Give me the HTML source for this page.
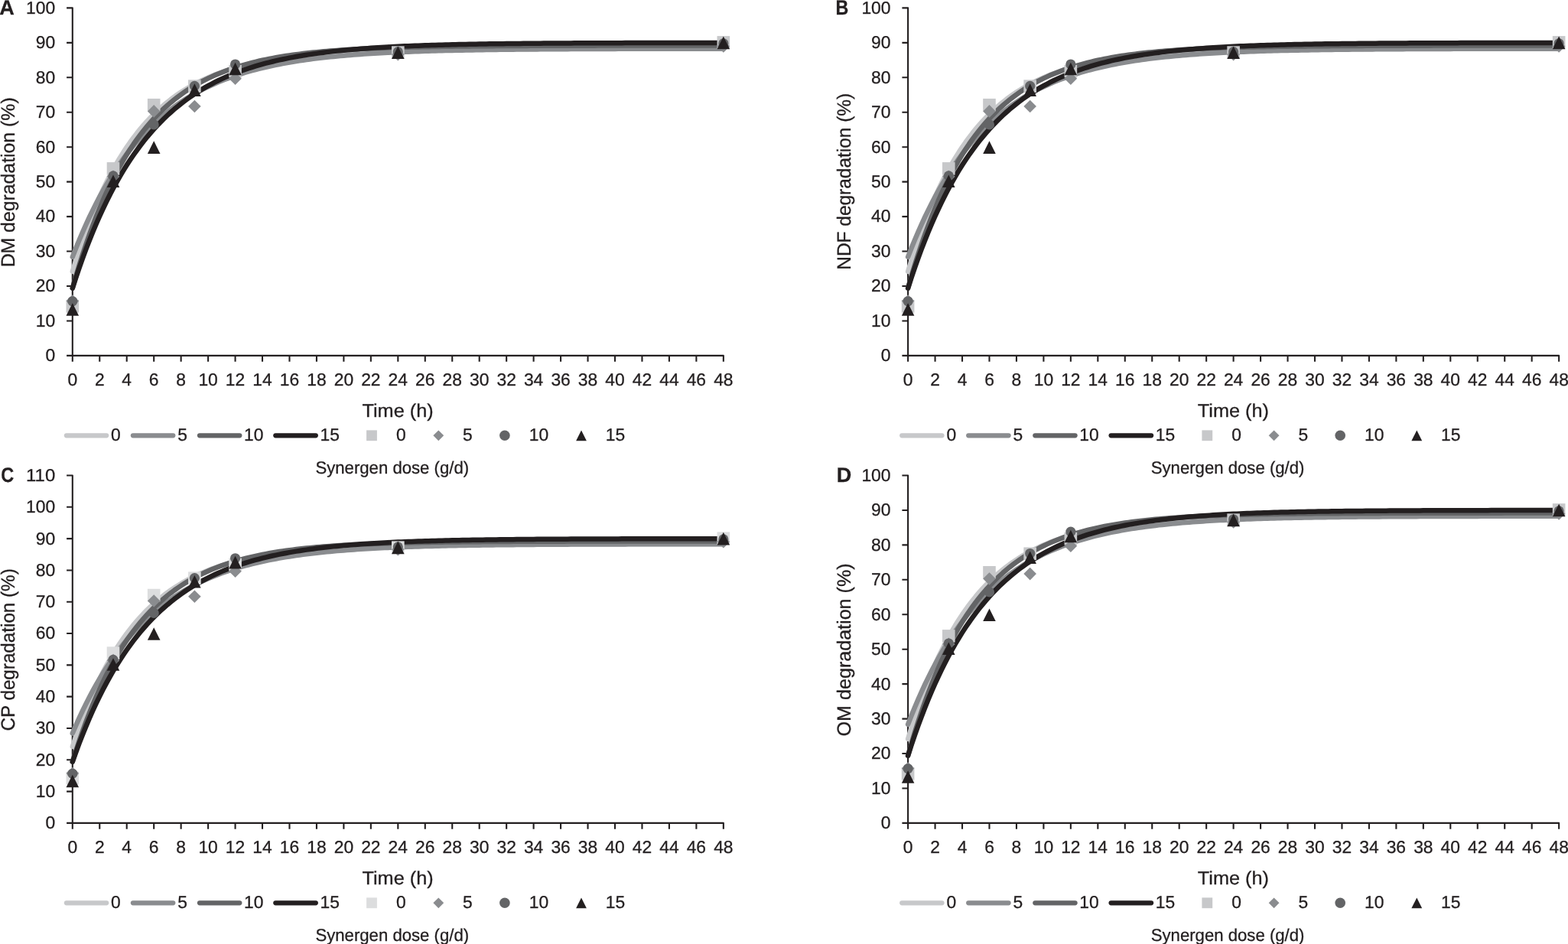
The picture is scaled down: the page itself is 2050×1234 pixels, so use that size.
<!DOCTYPE html>
<html lang="en">
<head>
<meta charset="utf-8">
<title>In situ degradation kinetics by Synergen dose</title>
<style>
html,body{margin:0;padding:0;background:#fff;}
body{width:2050px;height:1234px;overflow:hidden;}
svg{display:block;font-family:"Liberation Sans",sans-serif;}
text{stroke:#231f20;stroke-width:0.3px;text-rendering:geometricPrecision;}
</style>
</head>
<body>
<svg width="2050" height="1234" viewBox="0 0 2050 1234">
<rect width="2050" height="1234" fill="#fff"/>
<g>
<g stroke="#231f20" stroke-width="2.1" fill="none" stroke-linejoin="round">
<path d="M87.1 10.4H94.8V472.7M87.1 464.9H945.84V472.7M87.1 419.45H94.8M87.1 374H94.8M87.1 328.55H94.8M87.1 283.1H94.8M87.1 237.65H94.8M87.1 192.2H94.8M87.1 146.75H94.8M87.1 101.3H94.8M87.1 55.85H94.8M130.26 464.9V472.7M165.72 464.9V472.7M201.18 464.9V472.7M236.64 464.9V472.7M272.1 464.9V472.7M307.56 464.9V472.7M343.02 464.9V472.7M378.48 464.9V472.7M413.94 464.9V472.7M449.4 464.9V472.7M484.86 464.9V472.7M520.32 464.9V472.7M555.78 464.9V472.7M591.24 464.9V472.7M626.7 464.9V472.7M662.16 464.9V472.7M697.62 464.9V472.7M733.08 464.9V472.7M768.54 464.9V472.7M804 464.9V472.7M839.46 464.9V472.7M874.92 464.9V472.7M910.38 464.9V472.7"/>
</g>
<g font-size="22.8" fill="#231f20">
<g text-anchor="end">
<text x="72.2" y="472" textLength="12.7" lengthAdjust="spacingAndGlyphs">0</text>
<text x="72.2" y="427" textLength="25.4" lengthAdjust="spacingAndGlyphs">10</text>
<text x="72.2" y="381" textLength="25.4" lengthAdjust="spacingAndGlyphs">20</text>
<text x="72.2" y="336" textLength="25.4" lengthAdjust="spacingAndGlyphs">30</text>
<text x="72.2" y="290" textLength="25.4" lengthAdjust="spacingAndGlyphs">40</text>
<text x="72.2" y="245" textLength="25.4" lengthAdjust="spacingAndGlyphs">50</text>
<text x="72.2" y="200" textLength="25.4" lengthAdjust="spacingAndGlyphs">60</text>
<text x="72.2" y="154" textLength="25.4" lengthAdjust="spacingAndGlyphs">70</text>
<text x="72.2" y="109" textLength="25.4" lengthAdjust="spacingAndGlyphs">80</text>
<text x="72.2" y="63" textLength="25.4" lengthAdjust="spacingAndGlyphs">90</text>
<text x="72.2" y="18" textLength="38.1" lengthAdjust="spacingAndGlyphs">100</text>
</g>
<g text-anchor="middle">
<text x="94.8" y="504" textLength="12.7" lengthAdjust="spacingAndGlyphs">0</text>
<text x="130.26" y="504" textLength="12.7" lengthAdjust="spacingAndGlyphs">2</text>
<text x="165.72" y="504" textLength="12.7" lengthAdjust="spacingAndGlyphs">4</text>
<text x="201.18" y="504" textLength="12.7" lengthAdjust="spacingAndGlyphs">6</text>
<text x="236.64" y="504" textLength="12.7" lengthAdjust="spacingAndGlyphs">8</text>
<text x="272.1" y="504" textLength="25.4" lengthAdjust="spacingAndGlyphs">10</text>
<text x="307.56" y="504" textLength="25.4" lengthAdjust="spacingAndGlyphs">12</text>
<text x="343.02" y="504" textLength="25.4" lengthAdjust="spacingAndGlyphs">14</text>
<text x="378.48" y="504" textLength="25.4" lengthAdjust="spacingAndGlyphs">16</text>
<text x="413.94" y="504" textLength="25.4" lengthAdjust="spacingAndGlyphs">18</text>
<text x="449.4" y="504" textLength="25.4" lengthAdjust="spacingAndGlyphs">20</text>
<text x="484.86" y="504" textLength="25.4" lengthAdjust="spacingAndGlyphs">22</text>
<text x="520.32" y="504" textLength="25.4" lengthAdjust="spacingAndGlyphs">24</text>
<text x="555.78" y="504" textLength="25.4" lengthAdjust="spacingAndGlyphs">26</text>
<text x="591.24" y="504" textLength="25.4" lengthAdjust="spacingAndGlyphs">28</text>
<text x="626.7" y="504" textLength="25.4" lengthAdjust="spacingAndGlyphs">30</text>
<text x="662.16" y="504" textLength="25.4" lengthAdjust="spacingAndGlyphs">32</text>
<text x="697.62" y="504" textLength="25.4" lengthAdjust="spacingAndGlyphs">34</text>
<text x="733.08" y="504" textLength="25.4" lengthAdjust="spacingAndGlyphs">36</text>
<text x="768.54" y="504" textLength="25.4" lengthAdjust="spacingAndGlyphs">38</text>
<text x="804" y="504" textLength="25.4" lengthAdjust="spacingAndGlyphs">40</text>
<text x="839.46" y="504" textLength="25.4" lengthAdjust="spacingAndGlyphs">42</text>
<text x="874.92" y="504" textLength="25.4" lengthAdjust="spacingAndGlyphs">44</text>
<text x="910.38" y="504" textLength="25.4" lengthAdjust="spacingAndGlyphs">46</text>
<text x="945.84" y="504" textLength="25.4" lengthAdjust="spacingAndGlyphs">48</text>
</g>
</g>
<g fill="none" stroke-width="6.5" stroke-linecap="round" stroke-linejoin="round">
<path d="M94.8 354.91L99.23 340.43L103.66 326.66L108.1 313.58L112.53 301.15L116.96 289.34L121.39 278.11L125.83 267.44L130.26 257.31L134.69 247.68L139.12 238.52L143.56 229.82L147.99 221.56L152.42 213.7L156.85 206.24L161.29 199.14L165.72 192.4L170.15 186L174.58 179.91L179.02 174.13L183.45 168.63L187.88 163.41L192.31 158.44L196.75 153.73L201.18 149.24L205.61 144.98L210.05 140.94L214.48 137.09L218.91 133.44L223.34 129.96L227.77 126.66L232.21 123.52L236.64 120.54L241.07 117.71L245.5 115.02L249.94 112.46L254.37 110.03L258.8 107.72L263.24 105.53L267.67 103.44L272.1 101.46L276.53 99.57L280.96 97.78L285.4 96.08L289.83 94.47L294.26 92.93L298.69 91.47L303.13 90.09L307.56 88.77L311.99 87.51L316.43 86.32L320.86 85.19L325.29 84.12L329.72 83.1L334.16 82.13L338.59 81.2L343.02 80.33L347.45 79.49L351.88 78.7L356.32 77.95L360.75 77.24L365.18 76.56L369.62 75.91L374.05 75.3L378.48 74.72L382.91 74.16L387.35 73.64L391.78 73.14L396.21 72.66L400.64 72.21L405.08 71.78L409.51 71.37L413.94 70.98L418.37 70.62L422.81 70.27L427.24 69.93L431.67 69.62L436.1 69.32L440.54 69.03L444.97 68.76L449.4 68.5L453.83 68.26L458.27 68.02L462.7 67.8L467.13 67.59L471.56 67.39L476 67.2L480.43 67.02L484.86 66.85L489.29 66.69L493.73 66.53L498.16 66.39L502.59 66.25L507.02 66.11L511.46 65.99L515.89 65.87L520.32 65.75L524.75 65.65L529.18 65.54L533.62 65.45L538.05 65.35L542.48 65.26L546.91 65.18L551.35 65.1L555.78 65.02L560.21 64.95L564.64 64.88L569.08 64.82L573.51 64.76L577.94 64.7L582.38 64.64L586.81 64.59L591.24 64.54L595.67 64.49L600.11 64.45L604.54 64.4L608.97 64.36L613.4 64.32L617.83 64.29L622.27 64.25L626.7 64.22L631.13 64.19L635.56 64.15L640 64.13L644.43 64.1L648.86 64.07L653.29 64.05L657.73 64.02L662.16 64L666.59 63.98L671.02 63.96L675.46 63.94L679.89 63.92L684.32 63.91L688.75 63.89L693.19 63.87L697.62 63.86L702.05 63.85L706.49 63.83L710.92 63.82L715.35 63.81L719.78 63.8L724.21 63.79L728.65 63.77L733.08 63.76L737.51 63.76L741.94 63.75L746.38 63.74L750.81 63.73L755.24 63.72L759.67 63.72L764.11 63.71L768.54 63.7L772.97 63.7L777.4 63.69L781.84 63.68L786.27 63.68L790.7 63.67L795.13 63.67L799.57 63.66L804 63.66L808.43 63.66L812.87 63.65L817.3 63.65L821.73 63.64L826.16 63.64L830.6 63.64L835.03 63.63L839.46 63.63L843.89 63.63L848.32 63.63L852.76 63.62L857.19 63.62L861.62 63.62L866.05 63.62L870.49 63.62L874.92 63.61L879.35 63.61L883.78 63.61L888.22 63.61L892.65 63.61L897.08 63.61L901.51 63.6L905.95 63.6L910.38 63.6L914.81 63.6L919.25 63.6L923.68 63.6L928.11 63.6L932.54 63.6L936.98 63.59L941.41 63.59L945.84 63.59" stroke="#c7c8ca"/>
<path d="M94.8 335.82L99.23 324.49L103.66 313.64L108.1 303.23L112.53 293.26L116.96 283.7L121.39 274.54L125.83 265.77L130.26 257.35L134.69 249.29L139.12 241.56L143.56 234.16L147.99 227.06L152.42 220.26L156.85 213.74L161.29 207.49L165.72 201.5L170.15 195.76L174.58 190.26L179.02 184.99L183.45 179.94L187.88 175.1L192.31 170.46L196.75 166.01L201.18 161.75L205.61 157.66L210.05 153.75L214.48 150L218.91 146.4L223.34 142.95L227.77 139.65L232.21 136.48L236.64 133.45L241.07 130.54L245.5 127.76L249.94 125.09L254.37 122.53L258.8 120.07L263.24 117.72L267.67 115.47L272.1 113.31L276.53 111.24L280.96 109.26L285.4 107.36L289.83 105.54L294.26 103.79L298.69 102.12L303.13 100.51L307.56 98.98L311.99 97.5L316.43 96.09L320.86 94.74L325.29 93.44L329.72 92.2L334.16 91.01L338.59 89.87L343.02 88.77L347.45 87.72L351.88 86.72L356.32 85.76L360.75 84.83L365.18 83.95L369.62 83.1L374.05 82.29L378.48 81.51L382.91 80.76L387.35 80.05L391.78 79.36L396.21 78.71L400.64 78.08L405.08 77.47L409.51 76.9L413.94 76.34L418.37 75.81L422.81 75.3L427.24 74.81L431.67 74.35L436.1 73.9L440.54 73.47L444.97 73.06L449.4 72.66L453.83 72.28L458.27 71.92L462.7 71.57L467.13 71.24L471.56 70.92L476 70.62L480.43 70.32L484.86 70.04L489.29 69.77L493.73 69.52L498.16 69.27L502.59 69.03L507.02 68.81L511.46 68.59L515.89 68.38L520.32 68.18L524.75 67.99L529.18 67.8L533.62 67.63L538.05 67.46L542.48 67.3L546.91 67.14L551.35 67L555.78 66.85L560.21 66.72L564.64 66.59L569.08 66.46L573.51 66.34L577.94 66.23L582.38 66.12L586.81 66.01L591.24 65.91L595.67 65.81L600.11 65.72L604.54 65.63L608.97 65.54L613.4 65.46L617.83 65.38L622.27 65.31L626.7 65.24L631.13 65.17L635.56 65.1L640 65.04L644.43 64.98L648.86 64.92L653.29 64.86L657.73 64.81L662.16 64.76L666.59 64.71L671.02 64.66L675.46 64.62L679.89 64.57L684.32 64.53L688.75 64.49L693.19 64.45L697.62 64.42L702.05 64.38L706.49 64.35L710.92 64.32L715.35 64.29L719.78 64.26L724.21 64.23L728.65 64.2L733.08 64.18L737.51 64.15L741.94 64.13L746.38 64.1L750.81 64.08L755.24 64.06L759.67 64.04L764.11 64.02L768.54 64L772.97 63.98L777.4 63.97L781.84 63.95L786.27 63.94L790.7 63.92L795.13 63.91L799.57 63.89L804 63.88L808.43 63.87L812.87 63.86L817.3 63.84L821.73 63.83L826.16 63.82L830.6 63.81L835.03 63.8L839.46 63.79L843.89 63.78L848.32 63.77L852.76 63.77L857.19 63.76L861.62 63.75L866.05 63.74L870.49 63.74L874.92 63.73L879.35 63.72L883.78 63.72L888.22 63.71L892.65 63.71L897.08 63.7L901.51 63.7L905.95 63.69L910.38 63.69L914.81 63.68L919.25 63.68L923.68 63.67L928.11 63.67L932.54 63.66L936.98 63.66L941.41 63.66L945.84 63.65" stroke="#8a8c8f"/>
<path d="M94.8 376.73L99.23 361.25L103.66 346.54L108.1 332.54L112.53 319.22L116.96 306.55L121.39 294.5L125.83 283.04L130.26 272.14L134.69 261.77L139.12 251.9L143.56 242.52L147.99 233.59L152.42 225.1L156.85 217.02L161.29 209.34L165.72 202.03L170.15 195.08L174.58 188.47L179.02 182.18L183.45 176.19L187.88 170.5L192.31 165.09L196.75 159.94L201.18 155.04L205.61 150.38L210.05 145.94L214.48 141.73L218.91 137.72L223.34 133.9L227.77 130.27L232.21 126.82L236.64 123.54L241.07 120.41L245.5 117.44L249.94 114.61L254.37 111.93L258.8 109.37L263.24 106.94L267.67 104.62L272.1 102.42L276.53 100.33L280.96 98.33L285.4 96.44L289.83 94.64L294.26 92.92L298.69 91.29L303.13 89.74L307.56 88.27L311.99 86.86L316.43 85.53L320.86 84.26L325.29 83.05L329.72 81.9L334.16 80.81L338.59 79.77L343.02 78.78L347.45 77.84L351.88 76.94L356.32 76.09L360.75 75.28L365.18 74.51L369.62 73.78L374.05 73.08L378.48 72.42L382.91 71.79L387.35 71.19L391.78 70.62L396.21 70.07L400.64 69.56L405.08 69.07L409.51 68.6L413.94 68.15L418.37 67.73L422.81 67.33L427.24 66.95L431.67 66.58L436.1 66.24L440.54 65.91L444.97 65.59L449.4 65.3L453.83 65.01L458.27 64.74L462.7 64.49L467.13 64.24L471.56 64.01L476 63.79L480.43 63.58L484.86 63.38L489.29 63.19L493.73 63.01L498.16 62.84L502.59 62.67L507.02 62.52L511.46 62.37L515.89 62.23L520.32 62.1L524.75 61.97L529.18 61.85L533.62 61.73L538.05 61.62L542.48 61.52L546.91 61.42L551.35 61.33L555.78 61.24L560.21 61.15L564.64 61.07L569.08 60.99L573.51 60.92L577.94 60.85L582.38 60.78L586.81 60.72L591.24 60.66L595.67 60.6L600.11 60.55L604.54 60.5L608.97 60.45L613.4 60.4L617.83 60.36L622.27 60.31L626.7 60.27L631.13 60.23L635.56 60.2L640 60.16L644.43 60.13L648.86 60.1L653.29 60.07L657.73 60.04L662.16 60.01L666.59 59.99L671.02 59.96L675.46 59.94L679.89 59.92L684.32 59.9L688.75 59.88L693.19 59.86L697.62 59.84L702.05 59.82L706.49 59.81L710.92 59.79L715.35 59.78L719.78 59.76L724.21 59.75L728.65 59.73L733.08 59.72L737.51 59.71L741.94 59.7L746.38 59.69L750.81 59.68L755.24 59.67L759.67 59.66L764.11 59.65L768.54 59.64L772.97 59.64L777.4 59.63L781.84 59.62L786.27 59.62L790.7 59.61L795.13 59.6L799.57 59.6L804 59.59L808.43 59.59L812.87 59.58L817.3 59.58L821.73 59.57L826.16 59.57L830.6 59.56L835.03 59.56L839.46 59.56L843.89 59.55L848.32 59.55L852.76 59.55L857.19 59.54L861.62 59.54L866.05 59.54L870.49 59.54L874.92 59.53L879.35 59.53L883.78 59.53L888.22 59.53L892.65 59.53L897.08 59.52L901.51 59.52L905.95 59.52L910.38 59.52L914.81 59.52L919.25 59.52L923.68 59.51L928.11 59.51L932.54 59.51L936.98 59.51L941.41 59.51L945.84 59.51" stroke="#636466"/>
<path d="M94.8 376.73L99.23 363.07L103.66 349.99L108.1 337.47L112.53 325.48L116.96 314L121.39 303.02L125.83 292.49L130.26 282.42L134.69 272.78L139.12 263.54L143.56 254.7L147.99 246.24L152.42 238.13L156.85 230.37L161.29 222.94L165.72 215.83L170.15 209.02L174.58 202.5L179.02 196.26L183.45 190.28L187.88 184.56L192.31 179.08L196.75 173.84L201.18 168.81L205.61 164L210.05 159.4L214.48 154.99L218.91 150.77L223.34 146.73L227.77 142.86L232.21 139.16L236.64 135.61L241.07 132.22L245.5 128.97L249.94 125.85L254.37 122.87L258.8 120.02L263.24 117.29L267.67 114.67L272.1 112.17L276.53 109.77L280.96 107.48L285.4 105.28L289.83 103.18L294.26 101.16L298.69 99.23L303.13 97.39L307.56 95.62L311.99 93.92L316.43 92.3L320.86 90.75L325.29 89.27L329.72 87.84L334.16 86.48L338.59 85.18L343.02 83.93L347.45 82.73L351.88 81.59L356.32 80.49L360.75 79.45L365.18 78.44L369.62 77.48L374.05 76.56L378.48 75.68L382.91 74.83L387.35 74.03L391.78 73.25L396.21 72.51L400.64 71.8L405.08 71.12L409.51 70.47L413.94 69.85L418.37 69.25L422.81 68.68L427.24 68.14L431.67 67.61L436.1 67.11L440.54 66.63L444.97 66.17L449.4 65.74L453.83 65.31L458.27 64.91L462.7 64.53L467.13 64.16L471.56 63.8L476 63.46L480.43 63.14L484.86 62.83L489.29 62.53L493.73 62.25L498.16 61.98L502.59 61.72L507.02 61.47L511.46 61.23L515.89 61L520.32 60.78L524.75 60.57L529.18 60.37L533.62 60.18L538.05 59.99L542.48 59.82L546.91 59.65L551.35 59.48L555.78 59.33L560.21 59.18L564.64 59.04L569.08 58.9L573.51 58.77L577.94 58.65L582.38 58.53L586.81 58.42L591.24 58.31L595.67 58.2L600.11 58.1L604.54 58.01L608.97 57.91L613.4 57.83L617.83 57.74L622.27 57.66L626.7 57.59L631.13 57.51L635.56 57.44L640 57.37L644.43 57.31L648.86 57.25L653.29 57.19L657.73 57.13L662.16 57.08L666.59 57.02L671.02 56.97L675.46 56.93L679.89 56.88L684.32 56.84L688.75 56.79L693.19 56.75L697.62 56.72L702.05 56.68L706.49 56.64L710.92 56.61L715.35 56.58L719.78 56.55L724.21 56.52L728.65 56.49L733.08 56.46L737.51 56.43L741.94 56.41L746.38 56.39L750.81 56.36L755.24 56.34L759.67 56.32L764.11 56.3L768.54 56.28L772.97 56.26L777.4 56.25L781.84 56.23L786.27 56.21L790.7 56.2L795.13 56.18L799.57 56.17L804 56.15L808.43 56.14L812.87 56.13L817.3 56.12L821.73 56.11L826.16 56.1L830.6 56.08L835.03 56.07L839.46 56.07L843.89 56.06L848.32 56.05L852.76 56.04L857.19 56.03L861.62 56.02L866.05 56.02L870.49 56.01L874.92 56L879.35 56L883.78 55.99L888.22 55.98L892.65 55.98L897.08 55.97L901.51 55.97L905.95 55.96L910.38 55.96L914.81 55.95L919.25 55.95L923.68 55.94L928.11 55.94L932.54 55.94L936.98 55.93L941.41 55.93L945.84 55.93" stroke="#231f20"/>
</g>
<g>
<rect x="86.5" y="392.06" width="16.6" height="16.6" fill="#c7c8ca"/>
<rect x="139.69" y="212.08" width="16.6" height="16.6" fill="#c7c8ca"/>
<rect x="192.88" y="128.91" width="16.6" height="16.6" fill="#c7c8ca"/>
<rect x="246.07" y="104.36" width="16.6" height="16.6" fill="#c7c8ca"/>
<rect x="299.26" y="84.82" width="16.6" height="16.6" fill="#c7c8ca"/>
<rect x="512.02" y="60.28" width="16.6" height="16.6" fill="#c7c8ca"/>
<rect x="937.54" y="47.1" width="16.6" height="16.6" fill="#c7c8ca"/>
<path d="M94.8 385.24L103.1 393.54L94.8 401.84L86.5 393.54Z" fill="#8a8c8f"/>
<path d="M147.99 222.53L156.29 230.83L147.99 239.13L139.69 230.83Z" fill="#8a8c8f"/>
<path d="M201.18 137.09L209.48 145.39L201.18 153.69L192.88 145.39Z" fill="#8a8c8f"/>
<path d="M254.37 130.72L262.67 139.02L254.37 147.32L246.07 139.02Z" fill="#8a8c8f"/>
<path d="M307.56 94.36L315.86 102.66L307.56 110.96L299.26 102.66Z" fill="#8a8c8f"/>
<path d="M520.32 63L528.62 71.3L520.32 79.6L512.02 71.3Z" fill="#8a8c8f"/>
<path d="M945.84 52.09L954.14 60.39L945.84 68.69L937.54 60.39Z" fill="#8a8c8f"/>
<circle cx="94.8" cy="393.77" r="6.6" fill="#636466"/>
<circle cx="147.99" cy="229.92" r="6.6" fill="#636466"/>
<circle cx="201.18" cy="162.88" r="6.6" fill="#636466"/>
<circle cx="254.37" cy="112.44" r="6.6" fill="#636466"/>
<circle cx="307.56" cy="84.03" r="6.6" fill="#636466"/>
<circle cx="520.32" cy="67.67" r="6.6" fill="#636466"/>
<circle cx="945.84" cy="56.76" r="6.6" fill="#636466"/>
<path d="M94.8 396.15L103.1 412.75L86.5 412.75Z" fill="#231f20"/>
<path d="M147.99 228.44L156.29 245.04L139.69 245.04Z" fill="#231f20"/>
<path d="M201.18 184.35L209.48 200.95L192.88 200.95Z" fill="#231f20"/>
<path d="M254.37 109.36L262.67 125.96L246.07 125.96Z" fill="#231f20"/>
<path d="M307.56 81.64L315.86 98.24L299.26 98.24Z" fill="#231f20"/>
<path d="M520.32 60.5L528.62 77.1L512.02 77.1Z" fill="#231f20"/>
<path d="M945.84 47.55L954.14 64.15L937.54 64.15Z" fill="#231f20"/>
</g>
<text x="520.1" y="544.9" font-size="24.3" fill="#231f20" text-anchor="middle" textLength="93.3" lengthAdjust="spacingAndGlyphs">Time (h)</text>
<text transform="translate(19.3 238.35) rotate(-90)" font-size="25" fill="#231f20" text-anchor="middle" textLength="222" lengthAdjust="spacingAndGlyphs">DM degradation (%)</text>
<text transform="translate(-0.7 19) scale(1 1)" font-size="27" font-weight="bold" fill="#231f20">A</text>
<g fill="none" stroke-width="6.2" stroke-linecap="round">
<path d="M86.9 569.3H139.2" stroke="#c7c8ca"/>
<path d="M173.9 569.3H226.3" stroke="#8a8c8f"/>
<path d="M261 569.3H313.3" stroke="#636466"/>
<path d="M360.3 569.3H412.8" stroke="#231f20"/>
</g>
<rect x="479.1" y="562.4" width="13.8" height="13.8" fill="#c7c8ca"/>
<path d="M573.3 562.4L580.2 569.3L573.3 576.2L566.4 569.3Z" fill="#8a8c8f"/>
<circle cx="659.9" cy="569.3" r="6.8" fill="#636466"/>
<path d="M760 562.4L766.9 576.2L753.1 576.2Z" fill="#231f20"/>
<g font-size="22.8" fill="#231f20">
<text x="145.1" y="576.2" textLength="12.7" lengthAdjust="spacingAndGlyphs">0</text>
<text x="232.3" y="576.2" textLength="12.7" lengthAdjust="spacingAndGlyphs">5</text>
<text x="319" y="576.2" textLength="25.4" lengthAdjust="spacingAndGlyphs">10</text>
<text x="418.5" y="576.2" textLength="25.4" lengthAdjust="spacingAndGlyphs">15</text>
<text x="518" y="576.2" textLength="12.7" lengthAdjust="spacingAndGlyphs">0</text>
<text x="605.1" y="576.2" textLength="12.7" lengthAdjust="spacingAndGlyphs">5</text>
<text x="691.8" y="576.2" textLength="25.4" lengthAdjust="spacingAndGlyphs">10</text>
<text x="791.7" y="576.2" textLength="25.4" lengthAdjust="spacingAndGlyphs">15</text>
<text x="512.8" y="619" font-size="22.6" text-anchor="middle" textLength="200.7" lengthAdjust="spacingAndGlyphs">Synergen dose (g/d)</text>
</g>
</g>
<g>
<g stroke="#231f20" stroke-width="2.1" fill="none" stroke-linejoin="round">
<path d="M1179.4 10.4H1187.1V472.7M1179.4 464.9H2038.14V472.7M1179.4 419.45H1187.1M1179.4 374H1187.1M1179.4 328.55H1187.1M1179.4 283.1H1187.1M1179.4 237.65H1187.1M1179.4 192.2H1187.1M1179.4 146.75H1187.1M1179.4 101.3H1187.1M1179.4 55.85H1187.1M1222.56 464.9V472.7M1258.02 464.9V472.7M1293.48 464.9V472.7M1328.94 464.9V472.7M1364.4 464.9V472.7M1399.86 464.9V472.7M1435.32 464.9V472.7M1470.78 464.9V472.7M1506.24 464.9V472.7M1541.7 464.9V472.7M1577.16 464.9V472.7M1612.62 464.9V472.7M1648.08 464.9V472.7M1683.54 464.9V472.7M1719 464.9V472.7M1754.46 464.9V472.7M1789.92 464.9V472.7M1825.38 464.9V472.7M1860.84 464.9V472.7M1896.3 464.9V472.7M1931.76 464.9V472.7M1967.22 464.9V472.7M2002.68 464.9V472.7"/>
</g>
<g font-size="22.8" fill="#231f20">
<g text-anchor="end">
<text x="1164.5" y="472" textLength="12.7" lengthAdjust="spacingAndGlyphs">0</text>
<text x="1164.5" y="427" textLength="25.4" lengthAdjust="spacingAndGlyphs">10</text>
<text x="1164.5" y="381" textLength="25.4" lengthAdjust="spacingAndGlyphs">20</text>
<text x="1164.5" y="336" textLength="25.4" lengthAdjust="spacingAndGlyphs">30</text>
<text x="1164.5" y="290" textLength="25.4" lengthAdjust="spacingAndGlyphs">40</text>
<text x="1164.5" y="245" textLength="25.4" lengthAdjust="spacingAndGlyphs">50</text>
<text x="1164.5" y="200" textLength="25.4" lengthAdjust="spacingAndGlyphs">60</text>
<text x="1164.5" y="154" textLength="25.4" lengthAdjust="spacingAndGlyphs">70</text>
<text x="1164.5" y="109" textLength="25.4" lengthAdjust="spacingAndGlyphs">80</text>
<text x="1164.5" y="63" textLength="25.4" lengthAdjust="spacingAndGlyphs">90</text>
<text x="1164.5" y="18" textLength="38.1" lengthAdjust="spacingAndGlyphs">100</text>
</g>
<g text-anchor="middle">
<text x="1187.1" y="504" textLength="12.7" lengthAdjust="spacingAndGlyphs">0</text>
<text x="1222.56" y="504" textLength="12.7" lengthAdjust="spacingAndGlyphs">2</text>
<text x="1258.02" y="504" textLength="12.7" lengthAdjust="spacingAndGlyphs">4</text>
<text x="1293.48" y="504" textLength="12.7" lengthAdjust="spacingAndGlyphs">6</text>
<text x="1328.94" y="504" textLength="12.7" lengthAdjust="spacingAndGlyphs">8</text>
<text x="1364.4" y="504" textLength="25.4" lengthAdjust="spacingAndGlyphs">10</text>
<text x="1399.86" y="504" textLength="25.4" lengthAdjust="spacingAndGlyphs">12</text>
<text x="1435.32" y="504" textLength="25.4" lengthAdjust="spacingAndGlyphs">14</text>
<text x="1470.78" y="504" textLength="25.4" lengthAdjust="spacingAndGlyphs">16</text>
<text x="1506.24" y="504" textLength="25.4" lengthAdjust="spacingAndGlyphs">18</text>
<text x="1541.7" y="504" textLength="25.4" lengthAdjust="spacingAndGlyphs">20</text>
<text x="1577.16" y="504" textLength="25.4" lengthAdjust="spacingAndGlyphs">22</text>
<text x="1612.62" y="504" textLength="25.4" lengthAdjust="spacingAndGlyphs">24</text>
<text x="1648.08" y="504" textLength="25.4" lengthAdjust="spacingAndGlyphs">26</text>
<text x="1683.54" y="504" textLength="25.4" lengthAdjust="spacingAndGlyphs">28</text>
<text x="1719" y="504" textLength="25.4" lengthAdjust="spacingAndGlyphs">30</text>
<text x="1754.46" y="504" textLength="25.4" lengthAdjust="spacingAndGlyphs">32</text>
<text x="1789.92" y="504" textLength="25.4" lengthAdjust="spacingAndGlyphs">34</text>
<text x="1825.38" y="504" textLength="25.4" lengthAdjust="spacingAndGlyphs">36</text>
<text x="1860.84" y="504" textLength="25.4" lengthAdjust="spacingAndGlyphs">38</text>
<text x="1896.3" y="504" textLength="25.4" lengthAdjust="spacingAndGlyphs">40</text>
<text x="1931.76" y="504" textLength="25.4" lengthAdjust="spacingAndGlyphs">42</text>
<text x="1967.22" y="504" textLength="25.4" lengthAdjust="spacingAndGlyphs">44</text>
<text x="2002.68" y="504" textLength="25.4" lengthAdjust="spacingAndGlyphs">46</text>
<text x="2038.14" y="504" textLength="25.4" lengthAdjust="spacingAndGlyphs">48</text>
</g>
</g>
<g fill="none" stroke-width="6.5" stroke-linecap="round" stroke-linejoin="round">
<path d="M1187.1 354.91L1191.53 340.43L1195.96 326.66L1200.4 313.58L1204.83 301.15L1209.26 289.34L1213.69 278.11L1218.13 267.44L1222.56 257.31L1226.99 247.68L1231.42 238.52L1235.86 229.82L1240.29 221.56L1244.72 213.7L1249.15 206.24L1253.59 199.14L1258.02 192.4L1262.45 186L1266.88 179.91L1271.32 174.13L1275.75 168.63L1280.18 163.41L1284.62 158.44L1289.05 153.73L1293.48 149.24L1297.91 144.98L1302.34 140.94L1306.78 137.09L1311.21 133.44L1315.64 129.96L1320.07 126.66L1324.51 123.52L1328.94 120.54L1333.37 117.71L1337.8 115.02L1342.24 112.46L1346.67 110.03L1351.1 107.72L1355.53 105.53L1359.97 103.44L1364.4 101.46L1368.83 99.57L1373.26 97.78L1377.7 96.08L1382.13 94.47L1386.56 92.93L1390.99 91.47L1395.43 90.09L1399.86 88.77L1404.29 87.51L1408.72 86.32L1413.16 85.19L1417.59 84.12L1422.02 83.1L1426.45 82.13L1430.89 81.2L1435.32 80.33L1439.75 79.49L1444.18 78.7L1448.62 77.95L1453.05 77.24L1457.48 76.56L1461.91 75.91L1466.35 75.3L1470.78 74.72L1475.21 74.16L1479.64 73.64L1484.08 73.14L1488.51 72.66L1492.94 72.21L1497.38 71.78L1501.81 71.37L1506.24 70.98L1510.67 70.62L1515.11 70.27L1519.54 69.93L1523.97 69.62L1528.4 69.32L1532.84 69.03L1537.27 68.76L1541.7 68.5L1546.13 68.26L1550.57 68.02L1555 67.8L1559.43 67.59L1563.86 67.39L1568.29 67.2L1572.73 67.02L1577.16 66.85L1581.59 66.69L1586.02 66.53L1590.46 66.39L1594.89 66.25L1599.32 66.11L1603.75 65.99L1608.19 65.87L1612.62 65.75L1617.05 65.65L1621.48 65.54L1625.92 65.45L1630.35 65.35L1634.78 65.26L1639.21 65.18L1643.65 65.1L1648.08 65.02L1652.51 64.95L1656.94 64.88L1661.38 64.82L1665.81 64.76L1670.24 64.7L1674.67 64.64L1679.11 64.59L1683.54 64.54L1687.97 64.49L1692.4 64.45L1696.84 64.4L1701.27 64.36L1705.7 64.32L1710.13 64.29L1714.57 64.25L1719 64.22L1723.43 64.19L1727.86 64.15L1732.3 64.13L1736.73 64.1L1741.16 64.07L1745.59 64.05L1750.03 64.02L1754.46 64L1758.89 63.98L1763.32 63.96L1767.76 63.94L1772.19 63.92L1776.62 63.91L1781.05 63.89L1785.49 63.87L1789.92 63.86L1794.35 63.85L1798.78 63.83L1803.22 63.82L1807.65 63.81L1812.08 63.8L1816.51 63.79L1820.95 63.77L1825.38 63.76L1829.81 63.76L1834.24 63.75L1838.68 63.74L1843.11 63.73L1847.54 63.72L1851.97 63.72L1856.41 63.71L1860.84 63.7L1865.27 63.7L1869.7 63.69L1874.14 63.68L1878.57 63.68L1883 63.67L1887.43 63.67L1891.87 63.66L1896.3 63.66L1900.73 63.66L1905.16 63.65L1909.6 63.65L1914.03 63.64L1918.46 63.64L1922.89 63.64L1927.33 63.63L1931.76 63.63L1936.19 63.63L1940.62 63.63L1945.06 63.62L1949.49 63.62L1953.92 63.62L1958.36 63.62L1962.79 63.62L1967.22 63.61L1971.65 63.61L1976.09 63.61L1980.52 63.61L1984.95 63.61L1989.38 63.61L1993.82 63.6L1998.25 63.6L2002.68 63.6L2007.11 63.6L2011.55 63.6L2015.98 63.6L2020.41 63.6L2024.84 63.6L2029.28 63.59L2033.71 63.59L2038.14 63.59" stroke="#c7c8ca"/>
<path d="M1187.1 335.82L1191.53 324.49L1195.96 313.64L1200.4 303.23L1204.83 293.26L1209.26 283.7L1213.69 274.54L1218.13 265.77L1222.56 257.35L1226.99 249.29L1231.42 241.56L1235.86 234.16L1240.29 227.06L1244.72 220.26L1249.15 213.74L1253.59 207.49L1258.02 201.5L1262.45 195.76L1266.88 190.26L1271.32 184.99L1275.75 179.94L1280.18 175.1L1284.62 170.46L1289.05 166.01L1293.48 161.75L1297.91 157.66L1302.34 153.75L1306.78 150L1311.21 146.4L1315.64 142.95L1320.07 139.65L1324.51 136.48L1328.94 133.45L1333.37 130.54L1337.8 127.76L1342.24 125.09L1346.67 122.53L1351.1 120.07L1355.53 117.72L1359.97 115.47L1364.4 113.31L1368.83 111.24L1373.26 109.26L1377.7 107.36L1382.13 105.54L1386.56 103.79L1390.99 102.12L1395.43 100.51L1399.86 98.98L1404.29 97.5L1408.72 96.09L1413.16 94.74L1417.59 93.44L1422.02 92.2L1426.45 91.01L1430.89 89.87L1435.32 88.77L1439.75 87.72L1444.18 86.72L1448.62 85.76L1453.05 84.83L1457.48 83.95L1461.91 83.1L1466.35 82.29L1470.78 81.51L1475.21 80.76L1479.64 80.05L1484.08 79.36L1488.51 78.71L1492.94 78.08L1497.38 77.47L1501.81 76.9L1506.24 76.34L1510.67 75.81L1515.11 75.3L1519.54 74.81L1523.97 74.35L1528.4 73.9L1532.84 73.47L1537.27 73.06L1541.7 72.66L1546.13 72.28L1550.57 71.92L1555 71.57L1559.43 71.24L1563.86 70.92L1568.29 70.62L1572.73 70.32L1577.16 70.04L1581.59 69.77L1586.02 69.52L1590.46 69.27L1594.89 69.03L1599.32 68.81L1603.75 68.59L1608.19 68.38L1612.62 68.18L1617.05 67.99L1621.48 67.8L1625.92 67.63L1630.35 67.46L1634.78 67.3L1639.21 67.14L1643.65 67L1648.08 66.85L1652.51 66.72L1656.94 66.59L1661.38 66.46L1665.81 66.34L1670.24 66.23L1674.67 66.12L1679.11 66.01L1683.54 65.91L1687.97 65.81L1692.4 65.72L1696.84 65.63L1701.27 65.54L1705.7 65.46L1710.13 65.38L1714.57 65.31L1719 65.24L1723.43 65.17L1727.86 65.1L1732.3 65.04L1736.73 64.98L1741.16 64.92L1745.59 64.86L1750.03 64.81L1754.46 64.76L1758.89 64.71L1763.32 64.66L1767.76 64.62L1772.19 64.57L1776.62 64.53L1781.05 64.49L1785.49 64.45L1789.92 64.42L1794.35 64.38L1798.78 64.35L1803.22 64.32L1807.65 64.29L1812.08 64.26L1816.51 64.23L1820.95 64.2L1825.38 64.18L1829.81 64.15L1834.24 64.13L1838.68 64.1L1843.11 64.08L1847.54 64.06L1851.97 64.04L1856.41 64.02L1860.84 64L1865.27 63.98L1869.7 63.97L1874.14 63.95L1878.57 63.94L1883 63.92L1887.43 63.91L1891.87 63.89L1896.3 63.88L1900.73 63.87L1905.16 63.86L1909.6 63.84L1914.03 63.83L1918.46 63.82L1922.89 63.81L1927.33 63.8L1931.76 63.79L1936.19 63.78L1940.62 63.77L1945.06 63.77L1949.49 63.76L1953.92 63.75L1958.36 63.74L1962.79 63.74L1967.22 63.73L1971.65 63.72L1976.09 63.72L1980.52 63.71L1984.95 63.71L1989.38 63.7L1993.82 63.7L1998.25 63.69L2002.68 63.69L2007.11 63.68L2011.55 63.68L2015.98 63.67L2020.41 63.67L2024.84 63.66L2029.28 63.66L2033.71 63.66L2038.14 63.65" stroke="#8a8c8f"/>
<path d="M1187.1 376.73L1191.53 361.25L1195.96 346.54L1200.4 332.54L1204.83 319.22L1209.26 306.55L1213.69 294.5L1218.13 283.04L1222.56 272.14L1226.99 261.77L1231.42 251.9L1235.86 242.52L1240.29 233.59L1244.72 225.1L1249.15 217.02L1253.59 209.34L1258.02 202.03L1262.45 195.08L1266.88 188.47L1271.32 182.18L1275.75 176.19L1280.18 170.5L1284.62 165.09L1289.05 159.94L1293.48 155.04L1297.91 150.38L1302.34 145.94L1306.78 141.73L1311.21 137.72L1315.64 133.9L1320.07 130.27L1324.51 126.82L1328.94 123.54L1333.37 120.41L1337.8 117.44L1342.24 114.61L1346.67 111.93L1351.1 109.37L1355.53 106.94L1359.97 104.62L1364.4 102.42L1368.83 100.33L1373.26 98.33L1377.7 96.44L1382.13 94.64L1386.56 92.92L1390.99 91.29L1395.43 89.74L1399.86 88.27L1404.29 86.86L1408.72 85.53L1413.16 84.26L1417.59 83.05L1422.02 81.9L1426.45 80.81L1430.89 79.77L1435.32 78.78L1439.75 77.84L1444.18 76.94L1448.62 76.09L1453.05 75.28L1457.48 74.51L1461.91 73.78L1466.35 73.08L1470.78 72.42L1475.21 71.79L1479.64 71.19L1484.08 70.62L1488.51 70.07L1492.94 69.56L1497.38 69.07L1501.81 68.6L1506.24 68.15L1510.67 67.73L1515.11 67.33L1519.54 66.95L1523.97 66.58L1528.4 66.24L1532.84 65.91L1537.27 65.59L1541.7 65.3L1546.13 65.01L1550.57 64.74L1555 64.49L1559.43 64.24L1563.86 64.01L1568.29 63.79L1572.73 63.58L1577.16 63.38L1581.59 63.19L1586.02 63.01L1590.46 62.84L1594.89 62.67L1599.32 62.52L1603.75 62.37L1608.19 62.23L1612.62 62.1L1617.05 61.97L1621.48 61.85L1625.92 61.73L1630.35 61.62L1634.78 61.52L1639.21 61.42L1643.65 61.33L1648.08 61.24L1652.51 61.15L1656.94 61.07L1661.38 60.99L1665.81 60.92L1670.24 60.85L1674.67 60.78L1679.11 60.72L1683.54 60.66L1687.97 60.6L1692.4 60.55L1696.84 60.5L1701.27 60.45L1705.7 60.4L1710.13 60.36L1714.57 60.31L1719 60.27L1723.43 60.23L1727.86 60.2L1732.3 60.16L1736.73 60.13L1741.16 60.1L1745.59 60.07L1750.03 60.04L1754.46 60.01L1758.89 59.99L1763.32 59.96L1767.76 59.94L1772.19 59.92L1776.62 59.9L1781.05 59.88L1785.49 59.86L1789.92 59.84L1794.35 59.82L1798.78 59.81L1803.22 59.79L1807.65 59.78L1812.08 59.76L1816.51 59.75L1820.95 59.73L1825.38 59.72L1829.81 59.71L1834.24 59.7L1838.68 59.69L1843.11 59.68L1847.54 59.67L1851.97 59.66L1856.41 59.65L1860.84 59.64L1865.27 59.64L1869.7 59.63L1874.14 59.62L1878.57 59.62L1883 59.61L1887.43 59.6L1891.87 59.6L1896.3 59.59L1900.73 59.59L1905.16 59.58L1909.6 59.58L1914.03 59.57L1918.46 59.57L1922.89 59.56L1927.33 59.56L1931.76 59.56L1936.19 59.55L1940.62 59.55L1945.06 59.55L1949.49 59.54L1953.92 59.54L1958.36 59.54L1962.79 59.54L1967.22 59.53L1971.65 59.53L1976.09 59.53L1980.52 59.53L1984.95 59.53L1989.38 59.52L1993.82 59.52L1998.25 59.52L2002.68 59.52L2007.11 59.52L2011.55 59.52L2015.98 59.51L2020.41 59.51L2024.84 59.51L2029.28 59.51L2033.71 59.51L2038.14 59.51" stroke="#636466"/>
<path d="M1187.1 376.73L1191.53 363.07L1195.96 349.99L1200.4 337.47L1204.83 325.48L1209.26 314L1213.69 303.02L1218.13 292.49L1222.56 282.42L1226.99 272.78L1231.42 263.54L1235.86 254.7L1240.29 246.24L1244.72 238.13L1249.15 230.37L1253.59 222.94L1258.02 215.83L1262.45 209.02L1266.88 202.5L1271.32 196.26L1275.75 190.28L1280.18 184.56L1284.62 179.08L1289.05 173.84L1293.48 168.81L1297.91 164L1302.34 159.4L1306.78 154.99L1311.21 150.77L1315.64 146.73L1320.07 142.86L1324.51 139.16L1328.94 135.61L1333.37 132.22L1337.8 128.97L1342.24 125.85L1346.67 122.87L1351.1 120.02L1355.53 117.29L1359.97 114.67L1364.4 112.17L1368.83 109.77L1373.26 107.48L1377.7 105.28L1382.13 103.18L1386.56 101.16L1390.99 99.23L1395.43 97.39L1399.86 95.62L1404.29 93.92L1408.72 92.3L1413.16 90.75L1417.59 89.27L1422.02 87.84L1426.45 86.48L1430.89 85.18L1435.32 83.93L1439.75 82.73L1444.18 81.59L1448.62 80.49L1453.05 79.45L1457.48 78.44L1461.91 77.48L1466.35 76.56L1470.78 75.68L1475.21 74.83L1479.64 74.03L1484.08 73.25L1488.51 72.51L1492.94 71.8L1497.38 71.12L1501.81 70.47L1506.24 69.85L1510.67 69.25L1515.11 68.68L1519.54 68.14L1523.97 67.61L1528.4 67.11L1532.84 66.63L1537.27 66.17L1541.7 65.74L1546.13 65.31L1550.57 64.91L1555 64.53L1559.43 64.16L1563.86 63.8L1568.29 63.46L1572.73 63.14L1577.16 62.83L1581.59 62.53L1586.02 62.25L1590.46 61.98L1594.89 61.72L1599.32 61.47L1603.75 61.23L1608.19 61L1612.62 60.78L1617.05 60.57L1621.48 60.37L1625.92 60.18L1630.35 59.99L1634.78 59.82L1639.21 59.65L1643.65 59.48L1648.08 59.33L1652.51 59.18L1656.94 59.04L1661.38 58.9L1665.81 58.77L1670.24 58.65L1674.67 58.53L1679.11 58.42L1683.54 58.31L1687.97 58.2L1692.4 58.1L1696.84 58.01L1701.27 57.91L1705.7 57.83L1710.13 57.74L1714.57 57.66L1719 57.59L1723.43 57.51L1727.86 57.44L1732.3 57.37L1736.73 57.31L1741.16 57.25L1745.59 57.19L1750.03 57.13L1754.46 57.08L1758.89 57.02L1763.32 56.97L1767.76 56.93L1772.19 56.88L1776.62 56.84L1781.05 56.79L1785.49 56.75L1789.92 56.72L1794.35 56.68L1798.78 56.64L1803.22 56.61L1807.65 56.58L1812.08 56.55L1816.51 56.52L1820.95 56.49L1825.38 56.46L1829.81 56.43L1834.24 56.41L1838.68 56.39L1843.11 56.36L1847.54 56.34L1851.97 56.32L1856.41 56.3L1860.84 56.28L1865.27 56.26L1869.7 56.25L1874.14 56.23L1878.57 56.21L1883 56.2L1887.43 56.18L1891.87 56.17L1896.3 56.15L1900.73 56.14L1905.16 56.13L1909.6 56.12L1914.03 56.11L1918.46 56.1L1922.89 56.08L1927.33 56.07L1931.76 56.07L1936.19 56.06L1940.62 56.05L1945.06 56.04L1949.49 56.03L1953.92 56.02L1958.36 56.02L1962.79 56.01L1967.22 56L1971.65 56L1976.09 55.99L1980.52 55.98L1984.95 55.98L1989.38 55.97L1993.82 55.97L1998.25 55.96L2002.68 55.96L2007.11 55.95L2011.55 55.95L2015.98 55.94L2020.41 55.94L2024.84 55.94L2029.28 55.93L2033.71 55.93L2038.14 55.93" stroke="#231f20"/>
</g>
<g>
<rect x="1178.8" y="392.06" width="16.6" height="16.6" fill="#c7c8ca"/>
<rect x="1231.99" y="212.08" width="16.6" height="16.6" fill="#c7c8ca"/>
<rect x="1285.18" y="128.91" width="16.6" height="16.6" fill="#c7c8ca"/>
<rect x="1338.37" y="104.36" width="16.6" height="16.6" fill="#c7c8ca"/>
<rect x="1391.56" y="84.82" width="16.6" height="16.6" fill="#c7c8ca"/>
<rect x="1604.32" y="60.28" width="16.6" height="16.6" fill="#c7c8ca"/>
<rect x="2029.84" y="47.1" width="16.6" height="16.6" fill="#c7c8ca"/>
<path d="M1187.1 385.24L1195.4 393.54L1187.1 401.84L1178.8 393.54Z" fill="#8a8c8f"/>
<path d="M1240.29 222.53L1248.59 230.83L1240.29 239.13L1231.99 230.83Z" fill="#8a8c8f"/>
<path d="M1293.48 137.09L1301.78 145.39L1293.48 153.69L1285.18 145.39Z" fill="#8a8c8f"/>
<path d="M1346.67 130.72L1354.97 139.02L1346.67 147.32L1338.37 139.02Z" fill="#8a8c8f"/>
<path d="M1399.86 94.36L1408.16 102.66L1399.86 110.96L1391.56 102.66Z" fill="#8a8c8f"/>
<path d="M1612.62 63L1620.92 71.3L1612.62 79.6L1604.32 71.3Z" fill="#8a8c8f"/>
<path d="M2038.14 52.09L2046.44 60.39L2038.14 68.69L2029.84 60.39Z" fill="#8a8c8f"/>
<circle cx="1187.1" cy="393.77" r="6.6" fill="#636466"/>
<circle cx="1240.29" cy="229.92" r="6.6" fill="#636466"/>
<circle cx="1293.48" cy="162.88" r="6.6" fill="#636466"/>
<circle cx="1346.67" cy="112.44" r="6.6" fill="#636466"/>
<circle cx="1399.86" cy="84.03" r="6.6" fill="#636466"/>
<circle cx="1612.62" cy="67.67" r="6.6" fill="#636466"/>
<circle cx="2038.14" cy="56.76" r="6.6" fill="#636466"/>
<path d="M1187.1 396.15L1195.4 412.75L1178.8 412.75Z" fill="#231f20"/>
<path d="M1240.29 228.44L1248.59 245.04L1231.99 245.04Z" fill="#231f20"/>
<path d="M1293.48 184.35L1301.78 200.95L1285.18 200.95Z" fill="#231f20"/>
<path d="M1346.67 109.36L1354.97 125.96L1338.37 125.96Z" fill="#231f20"/>
<path d="M1399.86 81.64L1408.16 98.24L1391.56 98.24Z" fill="#231f20"/>
<path d="M1612.62 60.5L1620.92 77.1L1604.32 77.1Z" fill="#231f20"/>
<path d="M2038.14 47.55L2046.44 64.15L2029.84 64.15Z" fill="#231f20"/>
</g>
<text x="1612.4" y="544.9" font-size="24.3" fill="#231f20" text-anchor="middle" textLength="93.3" lengthAdjust="spacingAndGlyphs">Time (h)</text>
<text transform="translate(1111.6 237.25) rotate(-90)" font-size="25" fill="#231f20" text-anchor="middle" textLength="231" lengthAdjust="spacingAndGlyphs">NDF degradation (%)</text>
<text transform="translate(1092.55 19) scale(0.86 1)" font-size="27" font-weight="bold" fill="#231f20">B</text>
<g fill="none" stroke-width="6.2" stroke-linecap="round">
<path d="M1179.2 569.3H1231.5" stroke="#c7c8ca"/>
<path d="M1266.2 569.3H1318.6" stroke="#8a8c8f"/>
<path d="M1353.3 569.3H1405.6" stroke="#636466"/>
<path d="M1452.6 569.3H1505.1" stroke="#231f20"/>
</g>
<rect x="1571.4" y="562.4" width="13.8" height="13.8" fill="#c7c8ca"/>
<path d="M1665.6 562.4L1672.5 569.3L1665.6 576.2L1658.7 569.3Z" fill="#8a8c8f"/>
<circle cx="1752.2" cy="569.3" r="6.8" fill="#636466"/>
<path d="M1852.3 562.4L1859.2 576.2L1845.4 576.2Z" fill="#231f20"/>
<g font-size="22.8" fill="#231f20">
<text x="1237.4" y="576.2" textLength="12.7" lengthAdjust="spacingAndGlyphs">0</text>
<text x="1324.6" y="576.2" textLength="12.7" lengthAdjust="spacingAndGlyphs">5</text>
<text x="1411.3" y="576.2" textLength="25.4" lengthAdjust="spacingAndGlyphs">10</text>
<text x="1510.8" y="576.2" textLength="25.4" lengthAdjust="spacingAndGlyphs">15</text>
<text x="1610.3" y="576.2" textLength="12.7" lengthAdjust="spacingAndGlyphs">0</text>
<text x="1697.4" y="576.2" textLength="12.7" lengthAdjust="spacingAndGlyphs">5</text>
<text x="1784.1" y="576.2" textLength="25.4" lengthAdjust="spacingAndGlyphs">10</text>
<text x="1884" y="576.2" textLength="25.4" lengthAdjust="spacingAndGlyphs">15</text>
<text x="1605.1" y="619" font-size="22.6" text-anchor="middle" textLength="200.7" lengthAdjust="spacingAndGlyphs">Synergen dose (g/d)</text>
</g>
</g>
<g>
<g stroke="#231f20" stroke-width="2.1" fill="none" stroke-linejoin="round">
<path d="M87.1 621.5H94.8V1083.7M87.1 1075.9H945.84V1083.7M87.1 1034.59H94.8M87.1 993.28H94.8M87.1 951.97H94.8M87.1 910.66H94.8M87.1 869.35H94.8M87.1 828.05H94.8M87.1 786.74H94.8M87.1 745.43H94.8M87.1 704.12H94.8M87.1 662.81H94.8M130.26 1075.9V1083.7M165.72 1075.9V1083.7M201.18 1075.9V1083.7M236.64 1075.9V1083.7M272.1 1075.9V1083.7M307.56 1075.9V1083.7M343.02 1075.9V1083.7M378.48 1075.9V1083.7M413.94 1075.9V1083.7M449.4 1075.9V1083.7M484.86 1075.9V1083.7M520.32 1075.9V1083.7M555.78 1075.9V1083.7M591.24 1075.9V1083.7M626.7 1075.9V1083.7M662.16 1075.9V1083.7M697.62 1075.9V1083.7M733.08 1075.9V1083.7M768.54 1075.9V1083.7M804 1075.9V1083.7M839.46 1075.9V1083.7M874.92 1075.9V1083.7M910.38 1075.9V1083.7"/>
</g>
<g font-size="22.8" fill="#231f20">
<g text-anchor="end">
<text x="72.2" y="1083" textLength="12.7" lengthAdjust="spacingAndGlyphs">0</text>
<text x="72.2" y="1042" textLength="25.4" lengthAdjust="spacingAndGlyphs">10</text>
<text x="72.2" y="1001" textLength="25.4" lengthAdjust="spacingAndGlyphs">20</text>
<text x="72.2" y="959" textLength="25.4" lengthAdjust="spacingAndGlyphs">30</text>
<text x="72.2" y="918" textLength="25.4" lengthAdjust="spacingAndGlyphs">40</text>
<text x="72.2" y="877" textLength="25.4" lengthAdjust="spacingAndGlyphs">50</text>
<text x="72.2" y="835" textLength="25.4" lengthAdjust="spacingAndGlyphs">60</text>
<text x="72.2" y="794" textLength="25.4" lengthAdjust="spacingAndGlyphs">70</text>
<text x="72.2" y="753" textLength="25.4" lengthAdjust="spacingAndGlyphs">80</text>
<text x="72.2" y="712" textLength="25.4" lengthAdjust="spacingAndGlyphs">90</text>
<text x="72.2" y="670" textLength="38.1" lengthAdjust="spacingAndGlyphs">100</text>
<text x="72.2" y="629" textLength="38.1" lengthAdjust="spacingAndGlyphs">110</text>
</g>
<g text-anchor="middle">
<text x="94.8" y="1115" textLength="12.7" lengthAdjust="spacingAndGlyphs">0</text>
<text x="130.26" y="1115" textLength="12.7" lengthAdjust="spacingAndGlyphs">2</text>
<text x="165.72" y="1115" textLength="12.7" lengthAdjust="spacingAndGlyphs">4</text>
<text x="201.18" y="1115" textLength="12.7" lengthAdjust="spacingAndGlyphs">6</text>
<text x="236.64" y="1115" textLength="12.7" lengthAdjust="spacingAndGlyphs">8</text>
<text x="272.1" y="1115" textLength="25.4" lengthAdjust="spacingAndGlyphs">10</text>
<text x="307.56" y="1115" textLength="25.4" lengthAdjust="spacingAndGlyphs">12</text>
<text x="343.02" y="1115" textLength="25.4" lengthAdjust="spacingAndGlyphs">14</text>
<text x="378.48" y="1115" textLength="25.4" lengthAdjust="spacingAndGlyphs">16</text>
<text x="413.94" y="1115" textLength="25.4" lengthAdjust="spacingAndGlyphs">18</text>
<text x="449.4" y="1115" textLength="25.4" lengthAdjust="spacingAndGlyphs">20</text>
<text x="484.86" y="1115" textLength="25.4" lengthAdjust="spacingAndGlyphs">22</text>
<text x="520.32" y="1115" textLength="25.4" lengthAdjust="spacingAndGlyphs">24</text>
<text x="555.78" y="1115" textLength="25.4" lengthAdjust="spacingAndGlyphs">26</text>
<text x="591.24" y="1115" textLength="25.4" lengthAdjust="spacingAndGlyphs">28</text>
<text x="626.7" y="1115" textLength="25.4" lengthAdjust="spacingAndGlyphs">30</text>
<text x="662.16" y="1115" textLength="25.4" lengthAdjust="spacingAndGlyphs">32</text>
<text x="697.62" y="1115" textLength="25.4" lengthAdjust="spacingAndGlyphs">34</text>
<text x="733.08" y="1115" textLength="25.4" lengthAdjust="spacingAndGlyphs">36</text>
<text x="768.54" y="1115" textLength="25.4" lengthAdjust="spacingAndGlyphs">38</text>
<text x="804" y="1115" textLength="25.4" lengthAdjust="spacingAndGlyphs">40</text>
<text x="839.46" y="1115" textLength="25.4" lengthAdjust="spacingAndGlyphs">42</text>
<text x="874.92" y="1115" textLength="25.4" lengthAdjust="spacingAndGlyphs">44</text>
<text x="910.38" y="1115" textLength="25.4" lengthAdjust="spacingAndGlyphs">46</text>
<text x="945.84" y="1115" textLength="25.4" lengthAdjust="spacingAndGlyphs">48</text>
</g>
</g>
<g fill="none" stroke-width="6.5" stroke-linecap="round" stroke-linejoin="round">
<path d="M94.8 975.93L99.23 962.77L103.66 950.26L108.1 938.37L112.53 927.07L116.96 916.33L121.39 906.13L125.83 896.43L130.26 887.22L134.69 878.47L139.12 870.15L143.56 862.24L147.99 854.73L152.42 847.59L156.85 840.8L161.29 834.36L165.72 828.23L170.15 822.41L174.58 816.88L179.02 811.62L183.45 806.62L187.88 801.88L192.31 797.36L196.75 793.08L201.18 789L205.61 785.13L210.05 781.45L214.48 777.96L218.91 774.63L223.34 771.48L227.77 768.48L232.21 765.63L236.64 762.92L241.07 760.34L245.5 757.9L249.94 755.57L254.37 753.36L258.8 751.26L263.24 749.27L267.67 747.37L272.1 745.57L276.53 743.86L280.96 742.23L285.4 740.69L289.83 739.22L294.26 737.82L298.69 736.49L303.13 735.23L307.56 734.04L311.99 732.9L316.43 731.82L320.86 730.79L325.29 729.81L329.72 728.88L334.16 728L338.59 727.16L343.02 726.37L347.45 725.61L351.88 724.89L356.32 724.21L360.75 723.56L365.18 722.94L369.62 722.35L374.05 721.79L378.48 721.27L382.91 720.76L387.35 720.28L391.78 719.83L396.21 719.4L400.64 718.99L405.08 718.6L409.51 718.23L413.94 717.87L418.37 717.54L422.81 717.22L427.24 716.92L431.67 716.63L436.1 716.36L440.54 716.1L444.97 715.85L449.4 715.62L453.83 715.4L458.27 715.18L462.7 714.98L467.13 714.79L471.56 714.61L476 714.44L480.43 714.27L484.86 714.12L489.29 713.97L493.73 713.83L498.16 713.7L502.59 713.57L507.02 713.45L511.46 713.33L515.89 713.22L520.32 713.12L524.75 713.02L529.18 712.93L533.62 712.84L538.05 712.76L542.48 712.67L546.91 712.6L551.35 712.53L555.78 712.46L560.21 712.39L564.64 712.33L569.08 712.27L573.51 712.21L577.94 712.16L582.38 712.11L586.81 712.06L591.24 712.02L595.67 711.97L600.11 711.93L604.54 711.89L608.97 711.85L613.4 711.82L617.83 711.79L622.27 711.75L626.7 711.72L631.13 711.69L635.56 711.67L640 711.64L644.43 711.62L648.86 711.59L653.29 711.57L657.73 711.55L662.16 711.53L666.59 711.51L671.02 711.49L675.46 711.47L679.89 711.46L684.32 711.44L688.75 711.43L693.19 711.41L697.62 711.4L702.05 711.39L706.49 711.37L710.92 711.36L715.35 711.35L719.78 711.34L724.21 711.33L728.65 711.32L733.08 711.31L737.51 711.3L741.94 711.3L746.38 711.29L750.81 711.28L755.24 711.27L759.67 711.27L764.11 711.26L768.54 711.25L772.97 711.25L777.4 711.24L781.84 711.24L786.27 711.23L790.7 711.23L795.13 711.22L799.57 711.22L804 711.22L808.43 711.21L812.87 711.21L817.3 711.21L821.73 711.2L826.16 711.2L830.6 711.2L835.03 711.19L839.46 711.19L843.89 711.19L848.32 711.19L852.76 711.18L857.19 711.18L861.62 711.18L866.05 711.18L870.49 711.18L874.92 711.17L879.35 711.17L883.78 711.17L888.22 711.17L892.65 711.17L897.08 711.17L901.51 711.17L905.95 711.16L910.38 711.16L914.81 711.16L919.25 711.16L923.68 711.16L928.11 711.16L932.54 711.16L936.98 711.16L941.41 711.16L945.84 711.16" stroke="#c7c8ca"/>
<path d="M94.8 958.58L99.23 948.29L103.66 938.42L108.1 928.96L112.53 919.9L116.96 911.21L121.39 902.89L125.83 894.91L130.26 887.26L134.69 879.93L139.12 872.91L143.56 866.18L147.99 859.73L152.42 853.55L156.85 847.62L161.29 841.94L165.72 836.5L170.15 831.28L174.58 826.28L179.02 821.49L183.45 816.9L187.88 812.5L192.31 808.28L196.75 804.24L201.18 800.37L205.61 796.65L210.05 793.1L214.48 789.69L218.91 786.42L223.34 783.29L227.77 780.28L232.21 777.41L236.64 774.65L241.07 772.01L245.5 769.47L249.94 767.05L254.37 764.72L258.8 762.49L263.24 760.35L267.67 758.31L272.1 756.34L276.53 754.46L280.96 752.66L285.4 750.93L289.83 749.28L294.26 747.69L298.69 746.17L303.13 744.71L307.56 743.32L311.99 741.98L316.43 740.69L320.86 739.46L325.29 738.29L329.72 737.16L334.16 736.07L338.59 735.04L343.02 734.04L347.45 733.09L351.88 732.18L356.32 731.3L360.75 730.46L365.18 729.66L369.62 728.89L374.05 728.15L378.48 727.44L382.91 726.76L387.35 726.11L391.78 725.49L396.21 724.89L400.64 724.32L405.08 723.77L409.51 723.25L413.94 722.74L418.37 722.26L422.81 721.8L427.24 721.35L431.67 720.93L436.1 720.52L440.54 720.13L444.97 719.76L449.4 719.4L453.83 719.06L458.27 718.73L462.7 718.41L467.13 718.11L471.56 717.82L476 717.54L480.43 717.27L484.86 717.02L489.29 716.77L493.73 716.54L498.16 716.31L502.59 716.1L507.02 715.89L511.46 715.7L515.89 715.51L520.32 715.32L524.75 715.15L529.18 714.98L533.62 714.82L538.05 714.67L542.48 714.52L546.91 714.38L551.35 714.25L555.78 714.12L560.21 713.99L564.64 713.88L569.08 713.76L573.51 713.65L577.94 713.55L582.38 713.45L586.81 713.35L591.24 713.26L595.67 713.17L600.11 713.09L604.54 713.01L608.97 712.93L613.4 712.85L617.83 712.78L622.27 712.71L626.7 712.65L631.13 712.59L635.56 712.53L640 712.47L644.43 712.41L648.86 712.36L653.29 712.31L657.73 712.26L662.16 712.21L666.59 712.17L671.02 712.13L675.46 712.09L679.89 712.05L684.32 712.01L688.75 711.97L693.19 711.94L697.62 711.91L702.05 711.87L706.49 711.84L710.92 711.81L715.35 711.79L719.78 711.76L724.21 711.73L728.65 711.71L733.08 711.68L737.51 711.66L741.94 711.64L746.38 711.62L750.81 711.6L755.24 711.58L759.67 711.56L764.11 711.54L768.54 711.53L772.97 711.51L777.4 711.5L781.84 711.48L786.27 711.47L790.7 711.45L795.13 711.44L799.57 711.43L804 711.42L808.43 711.4L812.87 711.39L817.3 711.38L821.73 711.37L826.16 711.36L830.6 711.35L835.03 711.35L839.46 711.34L843.89 711.33L848.32 711.32L852.76 711.31L857.19 711.31L861.62 711.3L866.05 711.29L870.49 711.29L874.92 711.28L879.35 711.27L883.78 711.27L888.22 711.26L892.65 711.26L897.08 711.25L901.51 711.25L905.95 711.24L910.38 711.24L914.81 711.24L919.25 711.23L923.68 711.23L928.11 711.22L932.54 711.22L936.98 711.22L941.41 711.21L945.84 711.21" stroke="#8a8c8f"/>
<path d="M94.8 995.76L99.23 981.7L103.66 968.32L108.1 955.6L112.53 943.49L116.96 931.98L121.39 921.03L125.83 910.61L130.26 900.7L134.69 891.27L139.12 882.31L143.56 873.78L147.99 865.67L152.42 857.95L156.85 850.61L161.29 843.62L165.72 836.98L170.15 830.66L174.58 824.65L179.02 818.93L183.45 813.5L187.88 808.32L192.31 803.4L196.75 798.72L201.18 794.27L205.61 790.03L210.05 786L214.48 782.17L218.91 778.53L223.34 775.06L227.77 771.76L232.21 768.62L236.64 765.64L241.07 762.8L245.5 760.1L249.94 757.53L254.37 755.08L258.8 752.76L263.24 750.55L267.67 748.45L272.1 746.45L276.53 744.54L280.96 742.73L285.4 741.01L289.83 739.37L294.26 737.81L298.69 736.33L303.13 734.92L307.56 733.58L311.99 732.3L316.43 731.09L320.86 729.94L325.29 728.84L329.72 727.79L334.16 726.8L338.59 725.86L343.02 724.96L347.45 724.1L351.88 723.29L356.32 722.51L360.75 721.78L365.18 721.08L369.62 720.41L374.05 719.78L378.48 719.18L382.91 718.6L387.35 718.06L391.78 717.54L396.21 717.05L400.64 716.58L405.08 716.13L409.51 715.71L413.94 715.3L418.37 714.92L422.81 714.55L427.24 714.2L431.67 713.87L436.1 713.56L440.54 713.26L444.97 712.97L449.4 712.7L453.83 712.45L458.27 712.2L462.7 711.97L467.13 711.75L471.56 711.54L476 711.34L480.43 711.14L484.86 710.96L489.29 710.79L493.73 710.63L498.16 710.47L502.59 710.32L507.02 710.18L511.46 710.05L515.89 709.92L520.32 709.8L524.75 709.68L529.18 709.57L533.62 709.47L538.05 709.37L542.48 709.27L546.91 709.18L551.35 709.1L555.78 709.01L560.21 708.94L564.64 708.86L569.08 708.79L573.51 708.73L577.94 708.66L582.38 708.6L586.81 708.54L591.24 708.49L595.67 708.44L600.11 708.39L604.54 708.34L608.97 708.3L613.4 708.25L617.83 708.21L622.27 708.17L626.7 708.14L631.13 708.1L635.56 708.07L640 708.04L644.43 708.01L648.86 707.98L653.29 707.95L657.73 707.93L662.16 707.9L666.59 707.88L671.02 707.86L675.46 707.84L679.89 707.82L684.32 707.8L688.75 707.78L693.19 707.76L697.62 707.74L702.05 707.73L706.49 707.71L710.92 707.7L715.35 707.69L719.78 707.67L724.21 707.66L728.65 707.65L733.08 707.64L737.51 707.63L741.94 707.62L746.38 707.61L750.81 707.6L755.24 707.59L759.67 707.58L764.11 707.57L768.54 707.57L772.97 707.56L777.4 707.55L781.84 707.55L786.27 707.54L790.7 707.54L795.13 707.53L799.57 707.52L804 707.52L808.43 707.51L812.87 707.51L817.3 707.51L821.73 707.5L826.16 707.5L830.6 707.49L835.03 707.49L839.46 707.49L843.89 707.48L848.32 707.48L852.76 707.48L857.19 707.48L861.62 707.47L866.05 707.47L870.49 707.47L874.92 707.47L879.35 707.46L883.78 707.46L888.22 707.46L892.65 707.46L897.08 707.46L901.51 707.46L905.95 707.45L910.38 707.45L914.81 707.45L919.25 707.45L923.68 707.45L928.11 707.45L932.54 707.45L936.98 707.44L941.41 707.44L945.84 707.44" stroke="#636466"/>
<path d="M94.8 995.76L99.23 983.35L103.66 971.46L108.1 960.08L112.53 949.18L116.96 938.75L121.39 928.76L125.83 919.2L130.26 910.05L134.69 901.28L139.12 892.89L143.56 884.85L147.99 877.16L152.42 869.79L156.85 862.74L161.29 855.99L165.72 849.52L170.15 843.33L174.58 837.41L179.02 831.73L183.45 826.3L187.88 821.1L192.31 816.12L196.75 811.35L201.18 806.79L205.61 802.42L210.05 798.23L214.48 794.23L218.91 790.39L223.34 786.72L227.77 783.2L232.21 779.84L236.64 776.61L241.07 773.53L245.5 770.57L249.94 767.74L254.37 765.04L258.8 762.44L263.24 759.96L267.67 757.58L272.1 755.31L276.53 753.13L280.96 751.04L285.4 749.04L289.83 747.13L294.26 745.3L298.69 743.55L303.13 741.87L307.56 740.26L311.99 738.72L316.43 737.25L320.86 735.84L325.29 734.49L329.72 733.2L334.16 731.96L338.59 730.77L343.02 729.64L347.45 728.55L351.88 727.51L356.32 726.52L360.75 725.56L365.18 724.65L369.62 723.78L374.05 722.94L378.48 722.14L382.91 721.37L387.35 720.64L391.78 719.93L396.21 719.26L400.64 718.62L405.08 718L409.51 717.41L413.94 716.84L418.37 716.3L422.81 715.78L427.24 715.29L431.67 714.81L436.1 714.36L440.54 713.92L444.97 713.5L449.4 713.1L453.83 712.72L458.27 712.35L462.7 712L467.13 711.67L471.56 711.35L476 711.04L480.43 710.74L484.86 710.46L489.29 710.19L493.73 709.93L498.16 709.69L502.59 709.45L507.02 709.22L511.46 709L515.89 708.8L520.32 708.6L524.75 708.41L529.18 708.22L533.62 708.05L538.05 707.88L542.48 707.72L546.91 707.57L551.35 707.42L555.78 707.28L560.21 707.15L564.64 707.02L569.08 706.89L573.51 706.78L577.94 706.66L582.38 706.55L586.81 706.45L591.24 706.35L595.67 706.26L600.11 706.17L604.54 706.08L608.97 705.99L613.4 705.92L617.83 705.84L622.27 705.77L626.7 705.7L631.13 705.63L635.56 705.56L640 705.5L644.43 705.44L648.86 705.39L653.29 705.33L657.73 705.28L662.16 705.23L666.59 705.18L671.02 705.14L675.46 705.1L679.89 705.05L684.32 705.01L688.75 704.98L693.19 704.94L697.62 704.9L702.05 704.87L706.49 704.84L710.92 704.81L715.35 704.78L719.78 704.75L724.21 704.72L728.65 704.7L733.08 704.67L737.51 704.65L741.94 704.63L746.38 704.61L750.81 704.58L755.24 704.56L759.67 704.55L764.11 704.53L768.54 704.51L772.97 704.49L777.4 704.48L781.84 704.46L786.27 704.45L790.7 704.43L795.13 704.42L799.57 704.41L804 704.39L808.43 704.38L812.87 704.37L817.3 704.36L821.73 704.35L826.16 704.34L830.6 704.33L835.03 704.32L839.46 704.31L843.89 704.31L848.32 704.3L852.76 704.29L857.19 704.28L861.62 704.28L866.05 704.27L870.49 704.26L874.92 704.26L879.35 704.25L883.78 704.24L888.22 704.24L892.65 704.23L897.08 704.23L901.51 704.22L905.95 704.22L910.38 704.22L914.81 704.21L919.25 704.21L923.68 704.2L928.11 704.2L932.54 704.2L936.98 704.19L941.41 704.19L945.84 704.19" stroke="#231f20"/>
</g>
<g>
<rect x="86.5" y="1008.94" width="16.6" height="16.6" fill="#dcddde"/>
<rect x="139.69" y="845.36" width="16.6" height="16.6" fill="#dcddde"/>
<rect x="192.88" y="769.76" width="16.6" height="16.6" fill="#dcddde"/>
<rect x="246.07" y="747.45" width="16.6" height="16.6" fill="#dcddde"/>
<rect x="299.26" y="729.69" width="16.6" height="16.6" fill="#dcddde"/>
<rect x="512.02" y="707.38" width="16.6" height="16.6" fill="#dcddde"/>
<rect x="937.54" y="695.41" width="16.6" height="16.6" fill="#dcddde"/>
<path d="M94.8 1002.74L103.1 1011.04L94.8 1019.34L86.5 1011.04Z" fill="#8a8c8f"/>
<path d="M147.99 854.86L156.29 863.16L147.99 871.46L139.69 863.16Z" fill="#8a8c8f"/>
<path d="M201.18 777.2L209.48 785.5L201.18 793.8L192.88 785.5Z" fill="#8a8c8f"/>
<path d="M254.37 771.41L262.67 779.71L254.37 788.01L246.07 779.71Z" fill="#8a8c8f"/>
<path d="M307.56 738.37L315.86 746.67L307.56 754.97L299.26 746.67Z" fill="#8a8c8f"/>
<path d="M520.32 709.86L528.62 718.16L520.32 726.46L512.02 718.16Z" fill="#8a8c8f"/>
<path d="M945.84 699.95L954.14 708.25L945.84 716.55L937.54 708.25Z" fill="#8a8c8f"/>
<circle cx="94.8" cy="1011.25" r="6.6" fill="#636466"/>
<circle cx="147.99" cy="862.33" r="6.6" fill="#636466"/>
<circle cx="201.18" cy="801.4" r="6.6" fill="#636466"/>
<circle cx="254.37" cy="755.55" r="6.6" fill="#636466"/>
<circle cx="307.56" cy="729.73" r="6.6" fill="#636466"/>
<circle cx="520.32" cy="714.86" r="6.6" fill="#636466"/>
<circle cx="945.84" cy="704.94" r="6.6" fill="#636466"/>
<path d="M94.8 1012.66L103.1 1029.26L86.5 1029.26Z" fill="#231f20"/>
<path d="M147.99 860.23L156.29 876.83L139.69 876.83Z" fill="#231f20"/>
<path d="M201.18 820.16L209.48 836.76L192.88 836.76Z" fill="#231f20"/>
<path d="M254.37 752L262.67 768.6L246.07 768.6Z" fill="#231f20"/>
<path d="M307.56 726.8L315.86 743.4L299.26 743.4Z" fill="#231f20"/>
<path d="M520.32 707.59L528.62 724.19L512.02 724.19Z" fill="#231f20"/>
<path d="M945.84 695.82L954.14 712.42L937.54 712.42Z" fill="#231f20"/>
</g>
<text x="520.1" y="1155.9" font-size="24.3" fill="#231f20" text-anchor="middle" textLength="93.3" lengthAdjust="spacingAndGlyphs">Time (h)</text>
<text transform="translate(19.3 849.4) rotate(-90)" font-size="25" fill="#231f20" text-anchor="middle" textLength="212.2" lengthAdjust="spacingAndGlyphs">CP degradation (%)</text>
<text transform="translate(1.14 630) scale(0.87 1)" font-size="27" font-weight="bold" fill="#231f20">C</text>
<g fill="none" stroke-width="6.2" stroke-linecap="round">
<path d="M86.9 1180.3H139.2" stroke="#c7c8ca"/>
<path d="M173.9 1180.3H226.3" stroke="#8a8c8f"/>
<path d="M261 1180.3H313.3" stroke="#636466"/>
<path d="M360.3 1180.3H412.8" stroke="#231f20"/>
</g>
<rect x="479.1" y="1173.4" width="13.8" height="13.8" fill="#dcddde"/>
<path d="M573.3 1173.4L580.2 1180.3L573.3 1187.2L566.4 1180.3Z" fill="#8a8c8f"/>
<circle cx="659.9" cy="1180.3" r="6.8" fill="#636466"/>
<path d="M760 1173.4L766.9 1187.2L753.1 1187.2Z" fill="#231f20"/>
<g font-size="22.8" fill="#231f20">
<text x="145.1" y="1187.2" textLength="12.7" lengthAdjust="spacingAndGlyphs">0</text>
<text x="232.3" y="1187.2" textLength="12.7" lengthAdjust="spacingAndGlyphs">5</text>
<text x="319" y="1187.2" textLength="25.4" lengthAdjust="spacingAndGlyphs">10</text>
<text x="418.5" y="1187.2" textLength="25.4" lengthAdjust="spacingAndGlyphs">15</text>
<text x="518" y="1187.2" textLength="12.7" lengthAdjust="spacingAndGlyphs">0</text>
<text x="605.1" y="1187.2" textLength="12.7" lengthAdjust="spacingAndGlyphs">5</text>
<text x="691.8" y="1187.2" textLength="25.4" lengthAdjust="spacingAndGlyphs">10</text>
<text x="791.7" y="1187.2" textLength="25.4" lengthAdjust="spacingAndGlyphs">15</text>
<text x="512.8" y="1230" font-size="22.6" text-anchor="middle" textLength="200.7" lengthAdjust="spacingAndGlyphs">Synergen dose (g/d)</text>
</g>
</g>
<g>
<g stroke="#231f20" stroke-width="2.1" fill="none" stroke-linejoin="round">
<path d="M1179.4 621.5H1187.1V1083.7M1179.4 1075.9H2038.14V1083.7M1179.4 1030.46H1187.1M1179.4 985.02H1187.1M1179.4 939.58H1187.1M1179.4 894.14H1187.1M1179.4 848.7H1187.1M1179.4 803.26H1187.1M1179.4 757.82H1187.1M1179.4 712.38H1187.1M1179.4 666.94H1187.1M1222.56 1075.9V1083.7M1258.02 1075.9V1083.7M1293.48 1075.9V1083.7M1328.94 1075.9V1083.7M1364.4 1075.9V1083.7M1399.86 1075.9V1083.7M1435.32 1075.9V1083.7M1470.78 1075.9V1083.7M1506.24 1075.9V1083.7M1541.7 1075.9V1083.7M1577.16 1075.9V1083.7M1612.62 1075.9V1083.7M1648.08 1075.9V1083.7M1683.54 1075.9V1083.7M1719 1075.9V1083.7M1754.46 1075.9V1083.7M1789.92 1075.9V1083.7M1825.38 1075.9V1083.7M1860.84 1075.9V1083.7M1896.3 1075.9V1083.7M1931.76 1075.9V1083.7M1967.22 1075.9V1083.7M2002.68 1075.9V1083.7"/>
</g>
<g font-size="22.8" fill="#231f20">
<g text-anchor="end">
<text x="1164.5" y="1083" textLength="12.7" lengthAdjust="spacingAndGlyphs">0</text>
<text x="1164.5" y="1038" textLength="25.4" lengthAdjust="spacingAndGlyphs">10</text>
<text x="1164.5" y="992" textLength="25.4" lengthAdjust="spacingAndGlyphs">20</text>
<text x="1164.5" y="947" textLength="25.4" lengthAdjust="spacingAndGlyphs">30</text>
<text x="1164.5" y="902" textLength="25.4" lengthAdjust="spacingAndGlyphs">40</text>
<text x="1164.5" y="856" textLength="25.4" lengthAdjust="spacingAndGlyphs">50</text>
<text x="1164.5" y="811" textLength="25.4" lengthAdjust="spacingAndGlyphs">60</text>
<text x="1164.5" y="765" textLength="25.4" lengthAdjust="spacingAndGlyphs">70</text>
<text x="1164.5" y="720" textLength="25.4" lengthAdjust="spacingAndGlyphs">80</text>
<text x="1164.5" y="674" textLength="25.4" lengthAdjust="spacingAndGlyphs">90</text>
<text x="1164.5" y="629" textLength="38.1" lengthAdjust="spacingAndGlyphs">100</text>
</g>
<g text-anchor="middle">
<text x="1187.1" y="1115" textLength="12.7" lengthAdjust="spacingAndGlyphs">0</text>
<text x="1222.56" y="1115" textLength="12.7" lengthAdjust="spacingAndGlyphs">2</text>
<text x="1258.02" y="1115" textLength="12.7" lengthAdjust="spacingAndGlyphs">4</text>
<text x="1293.48" y="1115" textLength="12.7" lengthAdjust="spacingAndGlyphs">6</text>
<text x="1328.94" y="1115" textLength="12.7" lengthAdjust="spacingAndGlyphs">8</text>
<text x="1364.4" y="1115" textLength="25.4" lengthAdjust="spacingAndGlyphs">10</text>
<text x="1399.86" y="1115" textLength="25.4" lengthAdjust="spacingAndGlyphs">12</text>
<text x="1435.32" y="1115" textLength="25.4" lengthAdjust="spacingAndGlyphs">14</text>
<text x="1470.78" y="1115" textLength="25.4" lengthAdjust="spacingAndGlyphs">16</text>
<text x="1506.24" y="1115" textLength="25.4" lengthAdjust="spacingAndGlyphs">18</text>
<text x="1541.7" y="1115" textLength="25.4" lengthAdjust="spacingAndGlyphs">20</text>
<text x="1577.16" y="1115" textLength="25.4" lengthAdjust="spacingAndGlyphs">22</text>
<text x="1612.62" y="1115" textLength="25.4" lengthAdjust="spacingAndGlyphs">24</text>
<text x="1648.08" y="1115" textLength="25.4" lengthAdjust="spacingAndGlyphs">26</text>
<text x="1683.54" y="1115" textLength="25.4" lengthAdjust="spacingAndGlyphs">28</text>
<text x="1719" y="1115" textLength="25.4" lengthAdjust="spacingAndGlyphs">30</text>
<text x="1754.46" y="1115" textLength="25.4" lengthAdjust="spacingAndGlyphs">32</text>
<text x="1789.92" y="1115" textLength="25.4" lengthAdjust="spacingAndGlyphs">34</text>
<text x="1825.38" y="1115" textLength="25.4" lengthAdjust="spacingAndGlyphs">36</text>
<text x="1860.84" y="1115" textLength="25.4" lengthAdjust="spacingAndGlyphs">38</text>
<text x="1896.3" y="1115" textLength="25.4" lengthAdjust="spacingAndGlyphs">40</text>
<text x="1931.76" y="1115" textLength="25.4" lengthAdjust="spacingAndGlyphs">42</text>
<text x="1967.22" y="1115" textLength="25.4" lengthAdjust="spacingAndGlyphs">44</text>
<text x="2002.68" y="1115" textLength="25.4" lengthAdjust="spacingAndGlyphs">46</text>
<text x="2038.14" y="1115" textLength="25.4" lengthAdjust="spacingAndGlyphs">48</text>
</g>
</g>
<g fill="none" stroke-width="6.5" stroke-linecap="round" stroke-linejoin="round">
<path d="M1187.1 965.94L1191.53 951.45L1195.96 937.69L1200.4 924.61L1204.83 912.18L1209.26 900.38L1213.69 889.15L1218.13 878.49L1222.56 868.35L1226.99 858.72L1231.42 849.57L1235.86 840.87L1240.29 832.61L1244.72 824.76L1249.15 817.29L1253.59 810.2L1258.02 803.46L1262.45 797.06L1266.88 790.97L1271.32 785.19L1275.75 779.7L1280.18 774.47L1284.62 769.51L1289.05 764.79L1293.48 760.31L1297.91 756.05L1302.34 752.01L1306.78 748.16L1311.21 744.51L1315.64 741.04L1320.07 737.74L1324.51 734.6L1328.94 731.62L1333.37 728.79L1337.8 726.1L1342.24 723.54L1346.67 721.11L1351.1 718.8L1355.53 716.61L1359.97 714.52L1364.4 712.54L1368.83 710.66L1373.26 708.87L1377.7 707.17L1382.13 705.55L1386.56 704.01L1390.99 702.55L1395.43 701.17L1399.86 699.85L1404.29 698.6L1408.72 697.41L1413.16 696.28L1417.59 695.2L1422.02 694.18L1426.45 693.21L1430.89 692.29L1435.32 691.41L1439.75 690.58L1444.18 689.79L1448.62 689.04L1453.05 688.32L1457.48 687.64L1461.91 687L1466.35 686.38L1470.78 685.8L1475.21 685.25L1479.64 684.72L1484.08 684.22L1488.51 683.75L1492.94 683.29L1497.38 682.87L1501.81 682.46L1506.24 682.07L1510.67 681.7L1515.11 681.35L1519.54 681.02L1523.97 680.7L1528.4 680.4L1532.84 680.12L1537.27 679.85L1541.7 679.59L1546.13 679.34L1550.57 679.11L1555 678.89L1559.43 678.68L1563.86 678.48L1568.29 678.29L1572.73 678.11L1577.16 677.94L1581.59 677.78L1586.02 677.62L1590.46 677.47L1594.89 677.34L1599.32 677.2L1603.75 677.08L1608.19 676.96L1612.62 676.84L1617.05 676.73L1621.48 676.63L1625.92 676.53L1630.35 676.44L1634.78 676.35L1639.21 676.27L1643.65 676.19L1648.08 676.11L1652.51 676.04L1656.94 675.97L1661.38 675.91L1665.81 675.85L1670.24 675.79L1674.67 675.73L1679.11 675.68L1683.54 675.63L1687.97 675.58L1692.4 675.53L1696.84 675.49L1701.27 675.45L1705.7 675.41L1710.13 675.37L1714.57 675.34L1719 675.31L1723.43 675.27L1727.86 675.24L1732.3 675.21L1736.73 675.19L1741.16 675.16L1745.59 675.14L1750.03 675.11L1754.46 675.09L1758.89 675.07L1763.32 675.05L1767.76 675.03L1772.19 675.01L1776.62 674.99L1781.05 674.98L1785.49 674.96L1789.92 674.95L1794.35 674.93L1798.78 674.92L1803.22 674.91L1807.65 674.9L1812.08 674.88L1816.51 674.87L1820.95 674.86L1825.38 674.85L1829.81 674.84L1834.24 674.83L1838.68 674.83L1843.11 674.82L1847.54 674.81L1851.97 674.8L1856.41 674.8L1860.84 674.79L1865.27 674.78L1869.7 674.78L1874.14 674.77L1878.57 674.77L1883 674.76L1887.43 674.76L1891.87 674.75L1896.3 674.75L1900.73 674.74L1905.16 674.74L1909.6 674.74L1914.03 674.73L1918.46 674.73L1922.89 674.73L1927.33 674.72L1931.76 674.72L1936.19 674.72L1940.62 674.71L1945.06 674.71L1949.49 674.71L1953.92 674.71L1958.36 674.71L1962.79 674.7L1967.22 674.7L1971.65 674.7L1976.09 674.7L1980.52 674.7L1984.95 674.69L1989.38 674.69L1993.82 674.69L1998.25 674.69L2002.68 674.69L2007.11 674.69L2011.55 674.69L2015.98 674.69L2020.41 674.68L2024.84 674.68L2029.28 674.68L2033.71 674.68L2038.14 674.68" stroke="#c7c8ca"/>
<path d="M1187.1 946.85L1191.53 935.52L1195.96 924.67L1200.4 914.27L1204.83 904.3L1209.26 894.74L1213.69 885.59L1218.13 876.81L1222.56 868.4L1226.99 860.34L1231.42 852.61L1235.86 845.21L1240.29 838.11L1244.72 831.31L1249.15 824.79L1253.59 818.55L1258.02 812.56L1262.45 806.82L1266.88 801.32L1271.32 796.05L1275.75 791L1280.18 786.16L1284.62 781.52L1289.05 777.07L1293.48 772.81L1297.91 768.73L1302.34 764.82L1306.78 761.06L1311.21 757.47L1315.64 754.02L1320.07 750.72L1324.51 747.56L1328.94 744.52L1333.37 741.62L1337.8 738.83L1342.24 736.16L1346.67 733.6L1351.1 731.15L1355.53 728.8L1359.97 726.55L1364.4 724.39L1368.83 722.32L1373.26 720.34L1377.7 718.44L1382.13 716.62L1386.56 714.87L1390.99 713.2L1395.43 711.59L1399.86 710.06L1404.29 708.58L1408.72 707.17L1413.16 705.82L1417.59 704.52L1422.02 703.28L1426.45 702.09L1430.89 700.95L1435.32 699.86L1439.75 698.81L1444.18 697.8L1448.62 696.84L1453.05 695.92L1457.48 695.03L1461.91 694.19L1466.35 693.37L1470.78 692.59L1475.21 691.85L1479.64 691.13L1484.08 690.45L1488.51 689.79L1492.94 689.16L1497.38 688.56L1501.81 687.98L1506.24 687.43L1510.67 686.9L1515.11 686.39L1519.54 685.9L1523.97 685.43L1528.4 684.98L1532.84 684.55L1537.27 684.14L1541.7 683.75L1546.13 683.37L1550.57 683.01L1555 682.66L1559.43 682.33L1563.86 682.01L1568.29 681.7L1572.73 681.41L1577.16 681.13L1581.59 680.86L1586.02 680.6L1590.46 680.36L1594.89 680.12L1599.32 679.89L1603.75 679.68L1608.19 679.47L1612.62 679.27L1617.05 679.08L1621.48 678.89L1625.92 678.72L1630.35 678.55L1634.78 678.39L1639.21 678.23L1643.65 678.08L1648.08 677.94L1652.51 677.8L1656.94 677.67L1661.38 677.55L1665.81 677.43L1670.24 677.31L1674.67 677.2L1679.11 677.1L1683.54 677L1687.97 676.9L1692.4 676.81L1696.84 676.72L1701.27 676.63L1705.7 676.55L1710.13 676.47L1714.57 676.4L1719 676.32L1723.43 676.26L1727.86 676.19L1732.3 676.13L1736.73 676.06L1741.16 676.01L1745.59 675.95L1750.03 675.9L1754.46 675.85L1758.89 675.8L1763.32 675.75L1767.76 675.7L1772.19 675.66L1776.62 675.62L1781.05 675.58L1785.49 675.54L1789.92 675.51L1794.35 675.47L1798.78 675.44L1803.22 675.4L1807.65 675.37L1812.08 675.34L1816.51 675.32L1820.95 675.29L1825.38 675.26L1829.81 675.24L1834.24 675.21L1838.68 675.19L1843.11 675.17L1847.54 675.15L1851.97 675.13L1856.41 675.11L1860.84 675.09L1865.27 675.07L1869.7 675.06L1874.14 675.04L1878.57 675.02L1883 675.01L1887.43 674.99L1891.87 674.98L1896.3 674.97L1900.73 674.96L1905.16 674.94L1909.6 674.93L1914.03 674.92L1918.46 674.91L1922.89 674.9L1927.33 674.89L1931.76 674.88L1936.19 674.87L1940.62 674.86L1945.06 674.85L1949.49 674.85L1953.92 674.84L1958.36 674.83L1962.79 674.83L1967.22 674.82L1971.65 674.81L1976.09 674.81L1980.52 674.8L1984.95 674.79L1989.38 674.79L1993.82 674.78L1998.25 674.78L2002.68 674.77L2007.11 674.77L2011.55 674.77L2015.98 674.76L2020.41 674.76L2024.84 674.75L2029.28 674.75L2033.71 674.75L2038.14 674.74" stroke="#8a8c8f"/>
<path d="M1187.1 987.75L1191.53 972.28L1195.96 957.56L1200.4 943.57L1204.83 930.25L1209.26 917.59L1213.69 905.54L1218.13 894.08L1222.56 883.18L1226.99 872.81L1231.42 862.95L1235.86 853.57L1240.29 844.64L1244.72 836.15L1249.15 828.08L1253.59 820.4L1258.02 813.09L1262.45 806.14L1266.88 799.53L1271.32 793.24L1275.75 787.26L1280.18 781.57L1284.62 776.15L1289.05 771L1293.48 766.11L1297.91 761.45L1302.34 757.01L1306.78 752.8L1311.21 748.79L1315.64 744.97L1320.07 741.35L1324.51 737.89L1328.94 734.61L1333.37 731.49L1337.8 728.52L1342.24 725.69L1346.67 723L1351.1 720.45L1355.53 718.01L1359.97 715.7L1364.4 713.5L1368.83 711.41L1373.26 709.41L1377.7 707.52L1382.13 705.72L1386.56 704L1390.99 702.37L1395.43 700.82L1399.86 699.35L1404.29 697.95L1408.72 696.61L1413.16 695.34L1417.59 694.13L1422.02 692.98L1426.45 691.89L1430.89 690.85L1435.32 689.86L1439.75 688.92L1444.18 688.03L1448.62 687.18L1453.05 686.37L1457.48 685.6L1461.91 684.86L1466.35 684.17L1470.78 683.5L1475.21 682.87L1479.64 682.27L1484.08 681.7L1488.51 681.16L1492.94 680.64L1497.38 680.15L1501.81 679.69L1506.24 679.24L1510.67 678.82L1515.11 678.42L1519.54 678.03L1523.97 677.67L1528.4 677.32L1532.84 677L1537.27 676.68L1541.7 676.38L1546.13 676.1L1550.57 675.83L1555 675.58L1559.43 675.33L1563.86 675.1L1568.29 674.88L1572.73 674.67L1577.16 674.47L1581.59 674.28L1586.02 674.1L1590.46 673.93L1594.89 673.76L1599.32 673.61L1603.75 673.46L1608.19 673.32L1612.62 673.19L1617.05 673.06L1621.48 672.94L1625.92 672.82L1630.35 672.71L1634.78 672.61L1639.21 672.51L1643.65 672.41L1648.08 672.32L1652.51 672.24L1656.94 672.16L1661.38 672.08L1665.81 672.01L1670.24 671.94L1674.67 671.87L1679.11 671.81L1683.54 671.75L1687.97 671.69L1692.4 671.64L1696.84 671.58L1701.27 671.54L1705.7 671.49L1710.13 671.44L1714.57 671.4L1719 671.36L1723.43 671.32L1727.86 671.29L1732.3 671.25L1736.73 671.22L1741.16 671.19L1745.59 671.16L1750.03 671.13L1754.46 671.1L1758.89 671.08L1763.32 671.05L1767.76 671.03L1772.19 671.01L1776.62 670.99L1781.05 670.97L1785.49 670.95L1789.92 670.93L1794.35 670.91L1798.78 670.89L1803.22 670.88L1807.65 670.86L1812.08 670.85L1816.51 670.84L1820.95 670.82L1825.38 670.81L1829.81 670.8L1834.24 670.79L1838.68 670.78L1843.11 670.77L1847.54 670.76L1851.97 670.75L1856.41 670.74L1860.84 670.73L1865.27 670.73L1869.7 670.72L1874.14 670.71L1878.57 670.71L1883 670.7L1887.43 670.69L1891.87 670.69L1896.3 670.68L1900.73 670.68L1905.16 670.67L1909.6 670.67L1914.03 670.66L1918.46 670.66L1922.89 670.65L1927.33 670.65L1931.76 670.65L1936.19 670.64L1940.62 670.64L1945.06 670.64L1949.49 670.63L1953.92 670.63L1958.36 670.63L1962.79 670.63L1967.22 670.62L1971.65 670.62L1976.09 670.62L1980.52 670.62L1984.95 670.61L1989.38 670.61L1993.82 670.61L1998.25 670.61L2002.68 670.61L2007.11 670.61L2011.55 670.6L2015.98 670.6L2020.41 670.6L2024.84 670.6L2029.28 670.6L2033.71 670.6L2038.14 670.6" stroke="#636466"/>
<path d="M1187.1 987.75L1191.53 974.09L1195.96 961.02L1200.4 948.5L1204.83 936.51L1209.26 925.04L1213.69 914.05L1218.13 903.53L1222.56 893.46L1226.99 883.82L1231.42 874.59L1235.86 865.75L1240.29 857.28L1244.72 849.18L1249.15 841.42L1253.59 834L1258.02 826.89L1262.45 820.08L1266.88 813.56L1271.32 807.32L1275.75 801.34L1280.18 795.62L1284.62 790.14L1289.05 784.9L1293.48 779.88L1297.91 775.07L1302.34 770.47L1306.78 766.06L1311.21 761.84L1315.64 757.8L1320.07 753.93L1324.51 750.23L1328.94 746.69L1333.37 743.29L1337.8 740.04L1342.24 736.93L1346.67 733.95L1351.1 731.1L1355.53 728.37L1359.97 725.75L1364.4 723.25L1368.83 720.85L1373.26 718.56L1377.7 716.36L1382.13 714.26L1386.56 712.24L1390.99 710.31L1395.43 708.47L1399.86 706.7L1404.29 705.01L1408.72 703.39L1413.16 701.83L1417.59 700.35L1422.02 698.93L1426.45 697.57L1430.89 696.26L1435.32 695.01L1439.75 693.82L1444.18 692.67L1448.62 691.58L1453.05 690.53L1457.48 689.53L1461.91 688.56L1466.35 687.64L1470.78 686.76L1475.21 685.92L1479.64 685.11L1484.08 684.34L1488.51 683.6L1492.94 682.89L1497.38 682.21L1501.81 681.56L1506.24 680.94L1510.67 680.34L1515.11 679.77L1519.54 679.22L1523.97 678.7L1528.4 678.2L1532.84 677.72L1537.27 677.26L1541.7 676.82L1546.13 676.4L1550.57 676L1555 675.61L1559.43 675.24L1563.86 674.89L1568.29 674.55L1572.73 674.23L1577.16 673.92L1581.59 673.62L1586.02 673.34L1590.46 673.06L1594.89 672.8L1599.32 672.55L1603.75 672.32L1608.19 672.09L1612.62 671.87L1617.05 671.66L1621.48 671.46L1625.92 671.26L1630.35 671.08L1634.78 670.9L1639.21 670.74L1643.65 670.57L1648.08 670.42L1652.51 670.27L1656.94 670.13L1661.38 669.99L1665.81 669.86L1670.24 669.74L1674.67 669.62L1679.11 669.51L1683.54 669.4L1687.97 669.29L1692.4 669.19L1696.84 669.1L1701.27 669L1705.7 668.92L1710.13 668.83L1714.57 668.75L1719 668.67L1723.43 668.6L1727.86 668.53L1732.3 668.46L1736.73 668.4L1741.16 668.34L1745.59 668.28L1750.03 668.22L1754.46 668.16L1758.89 668.11L1763.32 668.06L1767.76 668.02L1772.19 667.97L1776.62 667.93L1781.05 667.88L1785.49 667.84L1789.92 667.8L1794.35 667.77L1798.78 667.73L1803.22 667.7L1807.65 667.67L1812.08 667.64L1816.51 667.61L1820.95 667.58L1825.38 667.55L1829.81 667.52L1834.24 667.5L1838.68 667.48L1843.11 667.45L1847.54 667.43L1851.97 667.41L1856.41 667.39L1860.84 667.37L1865.27 667.35L1869.7 667.34L1874.14 667.32L1878.57 667.3L1883 667.29L1887.43 667.27L1891.87 667.26L1896.3 667.24L1900.73 667.23L1905.16 667.22L1909.6 667.21L1914.03 667.2L1918.46 667.18L1922.89 667.17L1927.33 667.16L1931.76 667.15L1936.19 667.15L1940.62 667.14L1945.06 667.13L1949.49 667.12L1953.92 667.11L1958.36 667.11L1962.79 667.1L1967.22 667.09L1971.65 667.09L1976.09 667.08L1980.52 667.07L1984.95 667.07L1989.38 667.06L1993.82 667.06L1998.25 667.05L2002.68 667.05L2007.11 667.04L2011.55 667.04L2015.98 667.03L2020.41 667.03L2024.84 667.03L2029.28 667.02L2033.71 667.02L2038.14 667.02" stroke="#231f20"/>
</g>
<g>
<rect x="1178.8" y="1003.08" width="16.6" height="16.6" fill="#c7c8ca"/>
<rect x="1231.99" y="823.13" width="16.6" height="16.6" fill="#c7c8ca"/>
<rect x="1285.18" y="739.98" width="16.6" height="16.6" fill="#c7c8ca"/>
<rect x="1338.37" y="715.44" width="16.6" height="16.6" fill="#c7c8ca"/>
<rect x="1391.56" y="695.9" width="16.6" height="16.6" fill="#c7c8ca"/>
<rect x="1604.32" y="671.36" width="16.6" height="16.6" fill="#c7c8ca"/>
<rect x="2029.84" y="658.19" width="16.6" height="16.6" fill="#c7c8ca"/>
<path d="M1187.1 996.26L1195.4 1004.56L1187.1 1012.86L1178.8 1004.56Z" fill="#8a8c8f"/>
<path d="M1240.29 833.58L1248.59 841.88L1240.29 850.18L1231.99 841.88Z" fill="#8a8c8f"/>
<path d="M1293.48 748.16L1301.78 756.46L1293.48 764.76L1285.18 756.46Z" fill="#8a8c8f"/>
<path d="M1346.67 741.8L1354.97 750.1L1346.67 758.4L1338.37 750.1Z" fill="#8a8c8f"/>
<path d="M1399.86 705.44L1408.16 713.74L1399.86 722.04L1391.56 713.74Z" fill="#8a8c8f"/>
<path d="M1612.62 674.09L1620.92 682.39L1612.62 690.69L1604.32 682.39Z" fill="#8a8c8f"/>
<path d="M2038.14 663.18L2046.44 671.48L2038.14 679.78L2029.84 671.48Z" fill="#8a8c8f"/>
<circle cx="1187.1" cy="1004.79" r="6.6" fill="#636466"/>
<circle cx="1240.29" cy="840.98" r="6.6" fill="#636466"/>
<circle cx="1293.48" cy="773.95" r="6.6" fill="#636466"/>
<circle cx="1346.67" cy="723.51" r="6.6" fill="#636466"/>
<circle cx="1399.86" cy="695.11" r="6.6" fill="#636466"/>
<circle cx="1612.62" cy="678.75" r="6.6" fill="#636466"/>
<circle cx="2038.14" cy="667.85" r="6.6" fill="#636466"/>
<path d="M1187.1 1007.16L1195.4 1023.76L1178.8 1023.76Z" fill="#231f20"/>
<path d="M1240.29 839.49L1248.59 856.09L1231.99 856.09Z" fill="#231f20"/>
<path d="M1293.48 795.41L1301.78 812.01L1285.18 812.01Z" fill="#231f20"/>
<path d="M1346.67 720.44L1354.97 737.04L1338.37 737.04Z" fill="#231f20"/>
<path d="M1399.86 692.72L1408.16 709.32L1391.56 709.32Z" fill="#231f20"/>
<path d="M1612.62 671.59L1620.92 688.19L1604.32 688.19Z" fill="#231f20"/>
<path d="M2038.14 658.64L2046.44 675.24L2029.84 675.24Z" fill="#231f20"/>
</g>
<text x="1612.4" y="1155.9" font-size="24.3" fill="#231f20" text-anchor="middle" textLength="93.3" lengthAdjust="spacingAndGlyphs">Time (h)</text>
<text transform="translate(1111.6 849.4) rotate(-90)" font-size="25" fill="#231f20" text-anchor="middle" textLength="226" lengthAdjust="spacingAndGlyphs">OM degradation (%)</text>
<text transform="translate(1093.8 630) scale(1 1)" font-size="27" font-weight="bold" fill="#231f20">D</text>
<g fill="none" stroke-width="6.2" stroke-linecap="round">
<path d="M1179.2 1180.3H1231.5" stroke="#c7c8ca"/>
<path d="M1266.2 1180.3H1318.6" stroke="#8a8c8f"/>
<path d="M1353.3 1180.3H1405.6" stroke="#636466"/>
<path d="M1452.6 1180.3H1505.1" stroke="#231f20"/>
</g>
<rect x="1571.4" y="1173.4" width="13.8" height="13.8" fill="#c7c8ca"/>
<path d="M1665.6 1173.4L1672.5 1180.3L1665.6 1187.2L1658.7 1180.3Z" fill="#8a8c8f"/>
<circle cx="1752.2" cy="1180.3" r="6.8" fill="#636466"/>
<path d="M1852.3 1173.4L1859.2 1187.2L1845.4 1187.2Z" fill="#231f20"/>
<g font-size="22.8" fill="#231f20">
<text x="1237.4" y="1187.2" textLength="12.7" lengthAdjust="spacingAndGlyphs">0</text>
<text x="1324.6" y="1187.2" textLength="12.7" lengthAdjust="spacingAndGlyphs">5</text>
<text x="1411.3" y="1187.2" textLength="25.4" lengthAdjust="spacingAndGlyphs">10</text>
<text x="1510.8" y="1187.2" textLength="25.4" lengthAdjust="spacingAndGlyphs">15</text>
<text x="1610.3" y="1187.2" textLength="12.7" lengthAdjust="spacingAndGlyphs">0</text>
<text x="1697.4" y="1187.2" textLength="12.7" lengthAdjust="spacingAndGlyphs">5</text>
<text x="1784.1" y="1187.2" textLength="25.4" lengthAdjust="spacingAndGlyphs">10</text>
<text x="1884" y="1187.2" textLength="25.4" lengthAdjust="spacingAndGlyphs">15</text>
<text x="1605.1" y="1230" font-size="22.6" text-anchor="middle" textLength="200.7" lengthAdjust="spacingAndGlyphs">Synergen dose (g/d)</text>
</g>
</g>
</svg>
</body>
</html>
